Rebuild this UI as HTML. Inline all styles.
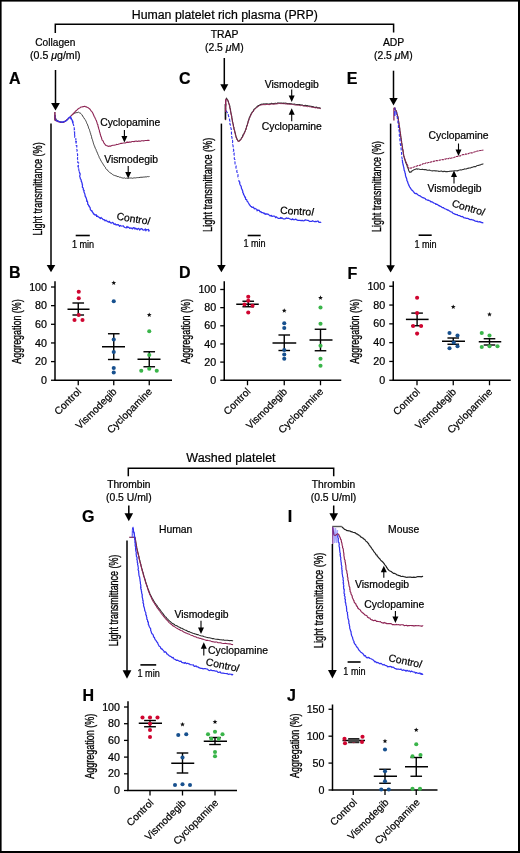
<!DOCTYPE html><html><head><meta charset="utf-8"><style>html,body{margin:0;padding:0;background:#fff;width:520px;height:853px;overflow:hidden;position:relative}</style></head><body><svg width="520" height="853" viewBox="0 0 520 853" style="position:absolute;left:0;top:0;will-change:transform">
<style>text{stroke:#000;stroke-width:0.22px}</style>
<g font-family='"Liberation Sans", sans-serif'>
<rect x="0" y="0" width="520" height="1.6" fill="#000"/>
<rect x="0" y="0" width="1.6" height="853" fill="#000"/>
<rect x="518" y="0" width="2" height="853" fill="#000"/>
<rect x="0" y="851" width="520" height="2" fill="#000"/>
<text x="131.80" y="19.00" font-size="12.3" text-anchor="start" textLength="186" lengthAdjust="spacingAndGlyphs">Human platelet rich plasma (PRP)</text>
<path d="M55.3,33 V24.2 H393.6 V32.6" fill="none" stroke="#000" stroke-width="1.5"/>
<text x="55.30" y="46.30" font-size="10.4" text-anchor="middle" textLength="40" lengthAdjust="spacingAndGlyphs">Collagen</text>
<text x="55.30" y="59.00" font-size="10.6" text-anchor="middle">(0.5 <tspan font-style="italic">μ</tspan>g/ml)</text>
<text x="224.60" y="37.70" font-size="10.4" text-anchor="middle">TRAP</text>
<text x="224.30" y="51.10" font-size="10.4" text-anchor="middle">(2.5 <tspan font-style="italic">μ</tspan>M)</text>
<text x="393.60" y="46.30" font-size="10.4" text-anchor="middle">ADP</text>
<text x="393.30" y="59.00" font-size="10.4" text-anchor="middle">(2.5 <tspan font-style="italic">μ</tspan>M)</text>
<line x1="55.50" y1="70.00" x2="55.50" y2="104.00" stroke="#000" stroke-width="1.5"/>
<path d="M51.10,103.00 L59.90,103.00 L55.50,110.50 Z" fill="#000"/>
<line x1="224.30" y1="58.00" x2="224.30" y2="85.30" stroke="#000" stroke-width="1.5"/>
<path d="M220.30,84.30 L228.30,84.30 L224.30,91.50 Z" fill="#000"/>
<line x1="393.50" y1="70.70" x2="393.50" y2="99.10" stroke="#000" stroke-width="1.5"/>
<path d="M389.30,98.10 L397.70,98.10 L393.50,105.60 Z" fill="#000"/>
<text x="9.10" y="84.00" font-size="16" text-anchor="start" font-weight="bold">A</text>
<text x="179.10" y="84.40" font-size="16" text-anchor="start" font-weight="bold">C</text>
<text x="346.70" y="84.40" font-size="16" text-anchor="start" font-weight="bold">E</text>
<text x="9.10" y="278.40" font-size="16" text-anchor="start" font-weight="bold">B</text>
<text x="179.10" y="278.40" font-size="16" text-anchor="start" font-weight="bold">D</text>
<text x="347.60" y="278.50" font-size="16" text-anchor="start" font-weight="bold">F</text>
<text x="82.10" y="522.20" font-size="16" text-anchor="start" font-weight="bold">G</text>
<text x="287.80" y="522.20" font-size="16" text-anchor="start" font-weight="bold">I</text>
<text x="82.60" y="701.00" font-size="16" text-anchor="start" font-weight="bold">H</text>
<text x="286.90" y="700.70" font-size="16" text-anchor="start" font-weight="bold">J</text>
<line x1="51.00" y1="123.60" x2="51.00" y2="266.00" stroke="#000" stroke-width="1.5"/>
<path d="M46.70,265.00 L55.30,265.00 L51.00,272.20 Z" fill="#000"/>
<line x1="221.40" y1="123.60" x2="221.40" y2="266.00" stroke="#000" stroke-width="1.5"/>
<path d="M217.10,265.00 L225.70,265.00 L221.40,272.20 Z" fill="#000"/>
<line x1="390.60" y1="123.60" x2="390.60" y2="266.20" stroke="#000" stroke-width="1.5"/>
<path d="M386.30,265.20 L394.90,265.20 L390.60,272.40 Z" fill="#000"/>
<text x="0" y="0" font-size="13" style="stroke-width:0.35px" text-anchor="middle" textLength="93.3" lengthAdjust="spacingAndGlyphs" transform="translate(42.00 188.95) rotate(-90)">Light transmittance (%)</text>
<text x="0" y="0" font-size="13" style="stroke-width:0.35px" text-anchor="middle" textLength="94.2" lengthAdjust="spacingAndGlyphs" transform="translate(211.50 184.80) rotate(-90)">Light transmittance (%)</text>
<text x="0" y="0" font-size="13" style="stroke-width:0.35px" text-anchor="middle" textLength="90.9" lengthAdjust="spacingAndGlyphs" transform="translate(381.30 186.45) rotate(-90)">Light transmittance (%)</text>
<line x1="75.70" y1="235.50" x2="89.80" y2="235.50" stroke="#000" stroke-width="1.6"/>
<text x="71.90" y="248.00" font-size="10" text-anchor="start" textLength="22.3" lengthAdjust="spacingAndGlyphs">1 min</text>
<line x1="247.70" y1="235.50" x2="260.70" y2="235.50" stroke="#000" stroke-width="1.6"/>
<text x="243.40" y="247.30" font-size="10" text-anchor="start" textLength="22.3" lengthAdjust="spacingAndGlyphs">1 min</text>
<line x1="418.60" y1="235.20" x2="431.70" y2="235.20" stroke="#000" stroke-width="1.6"/>
<text x="414.40" y="247.60" font-size="10" text-anchor="start" textLength="22.3" lengthAdjust="spacingAndGlyphs">1 min</text>
<path d="M55.50,118.00 L55.86,118.61 L56.50,119.49 L57.28,120.10 L57.88,121.17 L58.74,121.29 L59.81,121.70 L60.69,121.89 L61.53,121.83 L62.64,122.28 L63.73,122.14 L65.04,121.28 L65.71,121.10 L66.30,120.24 L67.18,119.79 L67.90,119.26 L68.65,118.54 L69.30,117.78 L69.99,117.22 L70.96,116.00 L71.60,115.28 L72.59,114.65 L73.27,113.94 L74.00,113.44 L74.92,113.02 L75.91,112.79 L76.86,112.57 L77.79,112.55 L78.57,112.19 L79.39,112.79 L80.20,113.03 L81.05,113.66 L81.60,114.43 L82.03,114.92 L82.78,116.23 L83.20,117.05 L83.88,117.67 L84.44,118.92 L85.12,119.46 L85.53,120.27 L86.09,121.40 L86.60,122.66 L86.91,123.56 L87.23,123.98 L87.66,124.85 L87.92,125.95 L88.37,126.70 L88.53,127.85 L88.89,128.69 L89.34,129.29 L89.58,130.41 L90.04,131.75 L90.23,132.47 L90.57,133.20 L90.69,134.16 L90.90,134.85 L91.36,135.91 L91.53,136.62 L91.78,137.89 L91.97,138.90 L92.41,139.60 L92.69,140.76 L92.99,141.63 L93.28,142.70 L93.38,143.18 L93.89,144.63 L94.14,145.34 L94.57,146.20 L94.87,147.09 L95.22,148.10 L95.55,148.84 L96.02,149.50 L96.32,150.67 L96.60,151.24 L97.08,152.07 L97.30,153.07 L97.79,153.77 L98.06,154.74 L98.54,155.63 L98.91,156.33 L99.16,157.40 L99.70,158.15 L99.96,158.83 L100.51,159.75 L101.03,160.89 L101.37,161.46 L102.04,162.51 L102.57,163.24 L102.95,164.10 L103.67,164.95 L104.12,165.87 L104.70,166.68 L105.37,167.32 L105.68,168.42 L106.54,169.27 L107.05,170.01 L107.79,170.37 L108.36,171.35 L108.97,171.82 L109.53,172.33 L110.20,172.75 L111.02,173.39 L111.84,173.77 L112.63,174.54 L113.43,175.04 L114.24,175.26 L114.88,175.69 L115.83,175.79 L116.91,176.21 L117.88,176.72 L118.68,176.64 L119.33,177.13 L120.11,177.32 L120.82,177.24 L121.64,177.76 L122.38,177.94 L123.46,178.11 L124.42,177.85 L125.46,178.39 L126.53,178.16 L127.94,178.31 L128.71,178.28 L129.60,178.02 L130.29,178.04 L131.24,177.96 L132.43,178.29 L133.23,178.04 L134.35,177.87 L135.45,177.94 L136.61,177.70 L137.63,177.59 L138.73,177.59 L139.99,177.40 L140.93,177.19 L142.08,177.29 L143.23,177.08 L144.25,177.09 L145.12,176.87 L146.05,176.94 L146.87,176.85 L147.66,176.55 L148.38,176.70 L148.88,176.51 L149.50,176.50" fill="none" stroke="#3a3a3a" stroke-width="1.0" stroke-opacity="1" stroke-linejoin="round"/>
<path d="M55.00,120.00 L55.74,120.64 L56.98,120.92 L58.12,121.67 L59.06,121.86 L60.20,122.37 L61.55,122.53 L62.70,122.39 L63.79,122.15 L64.88,121.55 L65.48,120.84 L66.39,120.21 L66.89,119.60 L67.86,118.93 L68.36,118.59 L69.14,117.84 L70.05,117.10 L70.80,116.30 L71.43,115.29 L72.11,114.87 L72.79,113.91 L73.49,113.70 L73.97,112.65 L74.78,112.30 L75.32,111.31 L76.14,110.81 L77.07,109.95 L77.71,109.28 L78.45,108.67 L79.12,108.16 L80.14,107.65 L80.99,107.04 L81.90,107.03 L82.81,106.64 L83.68,106.58 L84.72,106.29 L85.41,106.79 L86.60,106.92 L87.39,107.44 L88.23,107.70 L89.11,108.55 L89.74,108.90 L90.43,109.95 L90.86,110.50 L91.45,111.34 L92.04,111.82 L92.47,112.56 L93.09,113.73 L93.39,114.45 L93.84,115.49 L94.20,116.48 L94.71,117.13 L95.12,118.19 L95.62,118.94 L95.90,119.94 L96.37,120.63 L96.67,121.80 L96.89,122.14 L97.18,123.42 L97.61,124.45 L97.91,124.84 L97.94,125.65 L98.16,126.76 L98.61,127.80 L98.73,128.82 L98.98,129.39 L99.36,130.10 L99.43,131.52 L99.76,132.25 L100.12,133.47 L100.23,134.29 L100.64,135.38 L100.85,136.38 L101.36,137.15 L101.51,137.77 L101.89,139.25 L102.28,140.39 L102.97,140.81 L103.44,141.79 L103.87,142.76 L104.24,143.41 L104.94,144.28 L105.39,144.99 L106.22,145.56 L106.85,145.70 L107.80,146.11 L108.56,146.36 L109.26,146.01 L110.07,146.16 L110.78,146.13 L111.86,145.45 L112.97,145.21 L113.91,145.29 L115.23,144.93 L115.95,144.73 L116.57,144.41 L117.25,144.57 L118.22,144.29 L119.02,143.99 L119.70,143.82 L120.73,143.42 L121.50,143.34 L122.49,143.21 L123.31,143.04 L124.34,143.07 L125.30,142.93 L126.28,142.40 L127.36,142.13 L128.68,142.34 L129.28,141.91 L130.19,142.14 L131.21,142.04 L132.08,141.57 L133.00,141.50 L134.05,141.62 L134.99,141.33 L136.22,141.09 L137.30,141.51 L138.42,141.10 L139.37,141.13 L140.46,141.27 L141.52,140.77 L142.60,140.80 L143.51,140.86 L144.29,140.80 L145.40,140.56 L146.22,140.47 L146.92,140.44 L147.61,140.36 L148.46,140.27 L149.02,140.52 L149.50,140.20" fill="none" stroke="#8e2454" stroke-width="1.1" stroke-opacity="1" stroke-linejoin="round"/>
<path d="M55.00,115.00 L55.18,115.51 L55.20,116.86 L55.09,117.89 L55.42,118.86 L56.01,120.26 L56.61,120.76 L57.60,120.78 L58.64,121.44 L59.70,121.80 L60.66,121.78 L61.59,122.26 L62.58,122.00 L63.46,121.95 L64.15,121.49 L65.01,121.26 L65.90,121.00 L66.79,120.41 L67.45,119.61 L68.15,118.54 L68.99,117.64 L69.49,117.36 L70.27,116.92 L70.66,117.40 L71.21,117.99 L71.50,119.01 L72.15,120.11 L72.43,121.25 L72.67,122.17 L73.00,123.00" fill="none" stroke="#3232f0" stroke-width="1.3" stroke-opacity="1" stroke-linejoin="round"/>
<path d="M70.20,117.00 L70.38,116.90 L70.40,117.41 L70.96,118.84 L71.33,118.86 L72.14,120.54 L72.81,120.99 L72.91,122.81 L72.74,124.54 L73.08,123.71 L73.45,124.61 L73.73,125.76 L73.41,126.07 L74.09,127.36 L74.27,128.61 L74.52,129.25 L74.03,130.15 L74.67,131.78 L74.38,131.82 L74.82,134.41 L74.88,133.71 L74.49,134.67 L74.74,135.39 L74.76,137.34 L75.64,137.38 L75.83,138.75 L75.80,140.43 L76.05,139.74 L75.61,141.68 L76.32,141.66 L75.86,143.96 L75.82,144.07 L76.15,145.54 L76.81,145.58 L76.76,147.54 L76.97,148.17 L77.16,148.79 L76.82,149.51 L77.25,150.83 L76.89,151.15 L77.38,152.82 L77.46,153.31 L77.34,153.79 L77.63,154.46 L77.49,156.70 L77.76,156.42 L77.44,158.69 L77.89,159.67 L78.18,159.83 L78.29,161.26 L77.87,161.54 L77.73,162.52 L78.63,162.91 L78.39,163.85 L78.07,165.74 L78.33,165.57 L78.39,167.56 L78.92,167.33 L78.74,169.96 L78.88,170.14 L79.21,171.45" fill="none" stroke="#3232f0" stroke-width="1.12" stroke-dasharray="3,1.6"/>
<path d="M79.21,171.45 L79.53,172.37 L79.63,172.20 L79.47,172.92 L80.22,173.89 L79.67,176.33 L80.01,177.11 L80.09,177.25 L80.40,178.82 L80.94,179.39 L81.27,180.72 L81.10,181.14 L81.40,181.17 L81.96,182.95 L82.16,183.16 L82.14,184.54 L82.52,184.71 L82.40,186.33 L82.38,187.34 L83.21,188.00 L83.37,189.24 L83.22,189.68 L84.17,190.57 L83.91,191.02 L83.97,192.07 L84.87,193.98 L85.08,195.34 L85.11,196.13 L85.31,196.08 L85.96,197.82 L86.24,197.91 L86.37,198.61 L86.86,200.34 L86.52,201.16 L86.72,200.42 L87.50,201.53 L87.72,203.12 L87.69,204.26 L88.31,204.63 L88.79,206.09 L89.57,206.16 L89.41,207.05 L90.12,207.49 L90.34,209.53 L91.29,210.71 L92.01,211.29 L91.95,210.74 L92.40,211.99 L93.11,212.81 L93.51,214.02 L94.01,213.93 L95.21,215.21 L95.36,214.79 L96.50,214.92 L96.58,216.35 L97.66,216.15 L97.97,216.64 L99.38,217.51 L100.37,218.48 L101.21,217.51 L101.37,217.86 L102.52,218.84 L103.16,219.63 L104.23,219.66 L105.09,220.85 L106.00,220.19 L106.45,220.82 L107.80,221.59 L108.91,222.16 L109.19,221.28 L110.54,222.80 L111.23,223.21 L112.20,222.55 L112.78,222.41 L114.15,224.32 L115.32,223.86 L116.03,225.01 L117.08,224.72 L117.63,224.87 L118.30,224.54 L119.63,226.27 L120.35,225.47 L120.99,225.80 L122.17,226.01 L123.37,225.77 L123.81,226.68 L124.88,227.50 L126.20,227.85 L126.93,226.41 L127.80,227.50 L128.61,227.17 L129.69,228.44 L130.03,228.14 L131.15,227.99 L132.53,228.91 L133.22,227.67 L134.41,227.78 L134.89,229.09 L135.73,228.22 L137.26,229.57 L137.69,228.72 L138.69,228.39 L139.72,230.06 L140.63,228.85 L141.80,228.71 L143.14,230.04 L144.45,229.96 L145.41,228.96 L145.87,230.79 L146.55,229.65 L147.73,229.75 L148.50,229.44 L148.85,231.16 L149.60,230.40" fill="none" stroke="#3232f0" stroke-width="1.25" stroke-linejoin="round"/>
<line x1="54.90" y1="112.00" x2="54.90" y2="120.50" stroke="#7a1f50" stroke-width="1.5"/>
<text x="100.20" y="125.90" font-size="10.4" text-anchor="start" textLength="60" lengthAdjust="spacingAndGlyphs">Cyclopamine</text>
<line x1="124.40" y1="130.00" x2="124.40" y2="137.00" stroke="#000" stroke-width="1.1"/>
<path d="M121.40,136.00 L127.40,136.00 L124.40,142.50 Z" fill="#000"/>
<text x="104.20" y="163.40" font-size="10.4" text-anchor="start" textLength="53.8" lengthAdjust="spacingAndGlyphs">Vismodegib</text>
<line x1="128.20" y1="166.00" x2="128.20" y2="173.00" stroke="#000" stroke-width="1.1"/>
<path d="M125.20,172.00 L131.20,172.00 L128.20,178.50 Z" fill="#000"/>
<text x="116.20" y="219.60" font-size="10.4" text-anchor="start" transform="rotate(9 116.20 219.60)">Contro<tspan font-style="italic">l</tspan></text>
<path d="M225.60,119.60 L225.48,119.35 L225.49,118.76 L225.67,117.76 L225.48,116.50 L225.70,115.65 L225.50,115.10 L225.73,113.50 L225.76,112.73 L225.56,111.29 L225.57,110.75 L225.53,108.99 L225.49,107.83 L225.57,107.24 L225.48,105.63 L225.80,105.13 L225.83,103.59 L225.63,103.14 L225.70,102.11 L225.66,100.87 L225.71,100.72 L225.90,100.05 L226.39,98.09 L227.28,99.52 L227.67,99.74 L227.85,100.78 L228.21,100.87 L228.54,102.09 L228.58,102.61 L228.93,103.59 L229.57,105.20 L229.93,106.63 L229.78,107.81 L230.21,108.61 L230.33,109.06 L230.52,109.58 L230.61,110.69 L230.65,111.71 L230.89,112.58 L231.09,113.43 L231.27,114.62 L231.67,115.87 L231.82,116.83 L231.81,117.97 L232.00,118.41 L232.27,119.87 L232.41,120.84 L232.58,122.07 L232.84,122.73 L233.06,123.97 L233.41,124.67 L233.41,125.64 L233.47,126.37 L233.94,127.43 L233.85,128.25 L234.24,129.48 L234.51,130.09 L234.84,131.70 L235.06,132.82 L235.43,133.57 L235.55,134.74 L235.85,135.67 L236.21,136.98 L236.46,137.36 L236.62,138.33 L237.05,138.88 L237.16,139.61 L237.55,139.89 L237.97,140.88 L238.31,140.97 L238.91,141.10 L239.47,140.64 L239.94,140.01 L240.57,139.60 L241.01,139.19 L241.54,137.80 L242.33,137.06 L242.68,135.56 L243.37,134.37 L244.13,133.29 L244.52,132.22 L244.90,131.59 L245.24,131.02 L245.47,129.86 L245.95,129.45 L245.93,128.42 L246.45,127.91 L246.50,126.30 L246.93,125.64 L247.37,124.97 L247.46,123.71 L247.84,123.06 L248.01,121.75 L248.27,120.96 L248.55,120.22 L249.03,119.04 L249.19,117.90 L249.64,117.47 L249.99,116.24 L250.48,115.72 L250.66,114.67 L250.93,114.48 L251.45,113.21 L252.20,112.14 L252.85,111.63 L253.49,110.68 L253.88,109.42 L254.59,108.87 L255.15,108.58 L255.82,107.92 L256.74,106.84 L257.42,106.50 L257.87,105.86 L258.51,105.62 L259.36,105.45 L260.39,104.47 L261.13,104.40 L261.96,104.08 L262.92,104.24 L263.90,103.74 L264.82,103.92 L265.92,103.76 L266.97,103.73 L267.97,103.99 L268.84,104.05 L269.96,103.83 L270.87,103.81 L271.65,103.33 L272.61,103.81 L273.35,103.53 L274.13,103.68 L275.14,103.13 L276.07,103.60 L276.80,103.54 L277.76,102.92 L278.78,102.99 L279.74,103.14 L280.51,103.09 L281.78,103.06 L282.71,103.35 L283.51,103.13 L284.40,103.40 L285.12,102.94 L286.18,103.32 L286.90,103.63 L288.00,103.46 L288.94,103.75 L289.77,103.46 L290.45,103.83 L291.65,103.71 L292.51,103.97 L293.41,104.17 L294.50,104.07 L295.34,104.31 L296.42,104.56 L297.40,104.46 L298.44,104.60 L299.63,104.52 L300.30,104.90 L301.26,105.04 L302.19,104.89 L303.31,105.60 L304.44,105.47 L305.32,105.30 L306.34,105.64 L307.65,105.66 L308.73,106.08 L309.63,106.09 L310.89,106.20 L311.81,106.60 L312.72,106.56 L314.01,107.11 L314.91,107.35 L315.63,107.36 L316.76,107.16 L317.51,107.82 L318.26,107.80 L318.93,107.85 L319.63,107.84 L320.25,108.18 L320.80,108.00" fill="none" stroke="#333" stroke-width="1.1" stroke-opacity="1" stroke-linejoin="round"/>
<path d="M225.60,120.20 L225.65,119.67 L225.64,118.99 L225.67,118.16 L225.62,117.44 L225.58,116.29 L225.54,115.53 L225.55,114.51 L225.60,113.49 L225.67,112.26 L225.58,110.83 L225.62,109.95 L225.70,108.57 L225.55,107.75 L225.68,106.44 L225.69,105.24 L225.67,104.44 L225.70,103.29 L225.63,102.62 L225.81,101.66 L225.66,100.98 L225.86,100.56 L226.40,98.86 L227.32,100.01 L227.59,100.35 L227.77,101.15 L228.02,101.51 L228.38,102.38 L228.79,103.22 L229.09,104.46 L229.46,105.84 L229.83,107.43 L229.89,108.13 L230.16,108.80 L230.21,109.60 L230.35,110.39 L230.61,111.35 L230.79,112.15 L230.85,112.99 L231.10,114.03 L231.33,115.06 L231.56,116.21 L231.72,117.29 L231.89,118.20 L232.04,119.10 L232.33,120.31 L232.38,121.50 L232.68,122.40 L232.84,123.19 L233.15,124.18 L233.22,125.45 L233.36,126.16 L233.62,126.92 L233.90,127.80 L233.90,128.59 L234.18,129.82 L234.63,131.05 L234.73,132.10 L235.05,133.15 L235.31,134.19 L235.54,135.39 L235.80,136.55 L236.06,137.51 L236.37,138.05 L236.76,139.03 L237.06,139.73 L237.34,140.17 L237.66,140.83 L238.05,140.98 L238.21,141.47 L238.88,141.43 L239.36,141.30 L239.85,140.86 L240.46,140.09 L240.98,139.61 L241.57,138.60 L242.17,137.54 L242.85,136.58 L243.51,135.31 L243.96,134.05 L244.51,132.80 L244.92,132.28 L245.15,131.39 L245.41,130.61 L245.78,129.82 L246.15,129.08 L246.33,128.14 L246.56,127.33 L246.99,126.24 L247.28,125.25 L247.47,124.26 L247.76,123.44 L248.14,122.52 L248.33,121.57 L248.71,120.47 L249.02,119.56 L249.28,118.65 L249.68,117.91 L250.06,116.87 L250.39,116.33 L250.69,115.67 L250.93,114.91 L251.65,113.64 L252.18,113.02 L252.72,112.09 L253.45,111.08 L253.91,110.22 L254.68,109.57 L255.22,108.90 L256.00,108.20 L256.49,107.89 L257.23,107.13 L258.06,106.59 L258.59,106.37 L259.35,105.69 L260.36,105.28 L261.25,105.01 L262.04,104.74 L263.01,104.73 L263.93,104.61 L264.88,104.70 L265.99,104.64 L266.96,104.35 L267.87,104.39 L268.88,104.66 L270.08,104.57 L270.84,104.17 L271.65,104.06 L272.59,104.07 L273.31,104.26 L274.15,104.17 L275.04,103.99 L275.88,104.02 L276.83,103.73 L277.80,103.78 L278.65,103.55 L279.68,103.49 L280.72,103.61 L281.59,103.61 L282.62,103.63 L283.54,103.70 L284.34,103.69 L285.22,103.94 L286.08,103.99 L286.97,103.80 L287.80,104.17 L288.76,104.07 L289.69,104.35 L290.59,104.25 L291.54,104.21 L292.53,104.51 L293.49,104.61 L294.47,104.84 L295.41,105.07 L296.41,105.15 L297.45,105.25 L298.50,105.10 L299.61,105.54 L300.52,105.66 L301.46,105.46 L302.29,105.61 L303.35,105.89 L304.36,106.17 L305.46,106.28 L306.49,106.39 L307.41,106.68 L308.49,106.53 L309.72,106.77 L310.76,106.84 L311.73,107.27 L312.73,107.36 L313.93,107.40 L314.87,107.76 L315.79,107.92 L316.71,107.76 L317.46,108.10 L318.41,108.10 L319.07,108.18 L319.78,108.41 L320.30,108.59 L320.80,108.60" fill="none" stroke="#8e2454" stroke-width="1.0" stroke-opacity="1" stroke-linejoin="round"/>
<path d="M226.30,110.50 L226.35,111.37 L227.26,112.33 L227.39,112.44 L227.77,114.56 L228.18,114.57 L228.46,115.73 L228.53,116.00 L229.06,117.50 L228.95,117.54 L229.64,119.67 L229.67,120.67 L230.04,121.39 L229.64,121.67 L229.87,123.16 L230.01,124.49 L230.35,124.69 L230.50,125.81 L230.61,126.60 L230.69,127.56 L231.05,128.12 L231.17,129.26 L231.36,129.94 L231.24,131.45 L231.54,132.09 L231.36,132.95 L231.70,134.52 L231.43,134.87 L231.69,136.84 L231.99,137.25 L231.99,138.31 L232.47,139.24 L232.00,139.81 L232.44,140.14 L232.75,141.39 L232.49,142.70 L232.79,143.39 L233.07,144.30 L232.81,144.56 L233.06,145.89 L233.15,146.80 L232.90,147.33 L233.13,148.40 L233.75,150.11 L233.43,151.13 L233.82,151.09 L234.01,152.20 L234.30,152.98 L233.92,154.04 L234.44,155.76 L234.36,155.76 L234.38,157.48 L234.25,158.74 L234.93,159.72 L234.97,160.24 L235.30,160.71 L234.98,161.48 L235.04,163.39 L235.13,164.27 L235.51,165.42 L235.93,166.10 L236.16,166.13 L235.94,167.52 L236.24,168.86 L236.74,169.87 L236.96,170.73 L236.76,171.38 L237.23,172.72 L237.17,172.99 L237.55,173.72 L237.95,174.31 L238.00,175.90 L237.91,176.93 L238.34,178.38 L238.87,178.76" fill="none" stroke="#3232f0" stroke-width="1.12" stroke-dasharray="3,1.6"/>
<path d="M239.10,180.09 L238.86,180.92 L239.59,182.05 L239.81,182.12 L239.70,183.39 L240.00,184.45 L240.55,185.46 L240.69,185.60 L241.37,187.00 L241.30,187.76 L241.65,188.80 L242.01,189.23 L242.65,191.00 L242.82,191.09 L242.76,192.66 L243.54,193.48 L243.46,194.50 L244.03,194.92 L244.44,195.93 L244.85,197.23 L245.47,197.20 L245.58,199.20 L246.05,199.50 L246.61,199.51 L247.00,201.09 L247.30,201.36 L247.78,201.78 L248.31,202.75 L249.19,204.24 L249.49,204.85 L250.06,205.17 L250.54,206.24 L251.63,206.66 L251.83,207.28 L252.48,207.43 L253.53,207.21 L254.22,208.83 L255.12,208.49 L256.04,208.99 L256.90,209.50 L257.16,210.75 L258.01,210.19 L259.39,210.46 L259.97,211.88 L260.77,211.54 L261.69,212.57 L262.39,212.66 L263.06,212.72 L264.40,213.87 L264.59,213.14 L265.64,214.32 L266.54,213.79 L267.85,214.12 L268.92,214.85 L269.78,215.67 L270.22,215.93 L271.27,215.43 L271.92,216.39 L273.17,216.10 L274.23,216.20 L274.82,216.29 L275.59,217.63 L276.50,216.81 L277.27,217.73 L278.18,218.27 L278.86,218.40 L280.04,218.47 L280.61,217.53 L281.22,218.40 L281.86,217.75 L283.14,218.89 L283.97,218.89 L284.57,219.00 L285.54,218.61 L286.28,217.93 L287.06,218.32 L288.43,218.23 L290.00,218.98 L291.17,219.55 L291.51,219.61 L292.78,218.82 L293.01,219.65 L294.39,219.73 L294.95,219.55 L295.67,219.12 L296.85,219.93 L297.61,220.28 L298.59,220.44 L299.78,220.33 L301.24,220.62 L302.08,220.37 L303.04,220.66 L304.00,220.83 L305.43,219.79 L306.77,220.25 L307.25,220.27 L308.30,220.40 L309.84,221.50 L310.84,221.41 L312.01,221.31 L312.71,220.76 L313.53,221.26 L314.51,221.62 L315.50,221.48 L316.54,221.63 L317.09,221.19 L318.25,221.21 L318.97,222.33 L319.45,222.39 L320.23,222.42 L320.73,222.21 L321.20,221.90" fill="none" stroke="#3232f0" stroke-width="1.25" stroke-linejoin="round"/>
<line x1="225.40" y1="104.00" x2="225.40" y2="119.60" stroke="#111" stroke-width="1.5"/>
<line x1="225.60" y1="99.50" x2="225.60" y2="112.00" stroke="#8e2454" stroke-width="1.2"/>
<text x="264.80" y="87.70" font-size="10.4" text-anchor="start">Vismodegib</text>
<line x1="291.70" y1="89.60" x2="291.70" y2="96.50" stroke="#000" stroke-width="1.1"/>
<path d="M288.70,95.50 L294.70,95.50 L291.70,102.00 Z" fill="#000"/>
<text x="261.70" y="130.10" font-size="10.4" text-anchor="start">Cyclopamine</text>
<line x1="291.70" y1="121.30" x2="291.70" y2="113.80" stroke="#000" stroke-width="1.1"/>
<path d="M288.70,114.80 L294.70,114.80 L291.70,108.30 Z" fill="#000"/>
<text x="280.00" y="213.80" font-size="10.4" text-anchor="start" transform="rotate(3 280.00 213.80)">Contro<tspan font-style="italic">l</tspan></text>
<path d="M394.50,107.70 L394.75,107.97 L394.94,108.70 L395.21,109.32 L395.67,110.06 L395.99,110.42 L396.33,111.56 L396.77,112.16 L396.91,113.84 L397.33,114.92 L397.73,116.14 L397.82,116.91 L398.12,117.61 L398.21,118.23 L398.32,119.21 L398.47,120.21 L398.41,121.14 L398.71,121.62 L398.81,122.45 L398.88,123.84 L399.16,124.83 L399.14,125.36 L399.34,126.59 L399.58,127.48 L399.73,128.66 L399.73,129.79 L399.81,130.68 L399.98,131.35 L400.20,132.63 L400.38,133.52 L400.62,134.73 L400.52,135.20 L400.90,136.36 L400.78,137.11 L401.11,138.06 L401.16,139.32 L401.29,140.27 L401.61,141.32 L401.66,142.18 L401.70,143.15 L401.94,144.07 L402.03,145.13 L402.08,146.05 L402.46,146.58 L402.38,148.08 L402.47,148.90 L402.76,149.36 L402.92,150.22 L403.13,151.27 L403.31,152.50 L403.23,153.05 L403.39,154.09 L403.54,154.49 L403.71,155.75 L403.92,156.19 L404.26,157.45 L404.54,158.80 L404.83,159.60 L405.31,160.51 L405.44,161.89 L405.82,162.92 L406.31,163.56 L406.50,164.31 L406.99,165.39 L407.15,166.05 L407.42,167.24 L407.68,167.77 L408.10,168.41 L408.30,168.94 L408.79,170.81 L409.34,171.63 L409.56,172.32 L410.31,172.00 L410.99,172.23 L411.48,171.36 L412.17,170.79 L412.69,170.62 L413.78,169.86 L414.85,169.44 L416.67,168.71 L417.42,169.25 L417.89,168.98 L418.90,168.94 L419.52,169.26 L420.42,169.46 L421.44,169.46 L422.32,169.16 L423.28,169.50 L424.21,169.61 L425.17,169.52 L426.37,169.75 L427.17,170.25 L428.33,170.21 L429.33,170.04 L430.36,170.58 L431.37,170.77 L432.39,170.89 L433.35,170.73 L434.30,170.67 L435.35,170.90 L436.25,170.90 L437.04,171.04 L438.02,170.95 L438.97,171.48 L440.06,171.18 L441.19,171.15 L441.89,171.14 L442.91,171.69 L443.76,171.37 L444.79,171.27 L445.42,171.64 L446.30,171.56 L447.17,171.59 L448.24,171.48 L448.93,171.55 L449.95,171.16 L450.72,171.29 L451.73,171.16 L452.75,171.05 L453.67,171.02 L454.32,170.75 L455.17,170.71 L456.29,170.70 L457.06,170.89 L458.13,170.62 L458.83,170.20 L459.83,169.98 L460.70,169.78 L461.60,169.92 L462.63,169.55 L463.50,169.46 L464.48,168.91 L465.42,168.97 L466.16,169.07 L467.16,168.51 L467.80,168.36 L468.76,168.12 L469.48,168.05 L470.50,167.91 L471.58,167.37 L472.67,167.18 L473.47,166.79 L474.47,166.58 L475.73,166.58 L476.64,165.80 L477.48,165.52 L478.45,165.48 L479.23,165.10 L480.19,164.93 L481.09,164.52 L481.74,164.21 L482.34,164.21 L482.79,163.96 L483.40,163.80" fill="none" stroke="#333" stroke-width="1.1" stroke-opacity="1" stroke-linejoin="round"/>
<path d="M394.50,107.70 L394.69,107.93 L394.85,108.88 L395.17,109.01 L395.47,109.90 L395.86,110.53 L396.20,111.29 L396.64,112.53 L396.86,113.62 L397.30,115.14 L397.85,115.94 L397.91,116.76 L397.84,117.85 L398.26,118.55 L398.31,119.48 L398.42,120.11 L398.59,121.11 L398.80,121.62 L398.71,122.72 L398.99,123.54 L399.22,124.86 L399.30,125.62 L399.44,126.38 L399.62,127.34 L399.80,128.70 L399.72,129.40 L399.97,130.60 L400.14,131.35 L400.34,132.57 L400.33,133.76 L400.52,134.52 L400.55,135.47 L400.60,136.24 L401.01,137.03 L400.90,138.50 L401.15,139.25 L401.38,140.37 L401.43,141.39 L401.46,142.43 L401.71,143.27 L401.86,144.34 L402.03,145.23 L402.15,146.36 L402.46,146.89 L402.59,148.36 L402.56,148.77 L402.95,150.23 L402.81,151.00 L403.24,151.52 L403.33,152.39 L403.49,153.36 L403.53,153.88 L403.74,155.04 L403.77,155.30 L403.86,156.13 L404.51,157.78 L404.82,158.97 L404.91,159.77 L405.56,161.04 L405.93,161.87 L406.20,162.61 L406.63,163.08 L406.67,163.66 L407.00,164.25 L407.53,164.84 L407.85,166.06 L408.06,167.39 L408.74,168.28 L410.25,167.83 L410.81,168.22 L411.61,167.90 L412.35,167.27 L413.11,167.29 L413.78,167.10 L414.64,166.76 L415.34,166.43 L416.39,166.27 L417.11,165.87 L418.21,165.54 L419.19,165.52 L420.21,165.14 L421.10,164.83 L422.34,164.25 L423.05,163.60 L424.33,163.82 L425.35,163.26 L426.30,162.69 L427.33,163.05 L428.00,162.58 L429.04,162.42 L429.69,161.95 L430.67,162.25 L431.57,161.70 L432.39,161.82 L433.13,161.61 L434.01,161.05 L434.76,161.25 L435.92,160.61 L436.58,160.64 L437.54,160.76 L438.44,160.50 L439.47,160.17 L440.49,160.06 L441.29,160.06 L442.16,159.55 L443.26,159.78 L444.03,159.43 L444.96,159.11 L445.68,159.10 L446.86,158.60 L447.78,158.61 L448.67,158.69 L449.31,158.10 L450.42,158.43 L451.30,157.93 L452.12,157.85 L453.14,157.67 L453.88,157.43 L455.04,157.02 L455.64,156.52 L456.79,156.45 L457.81,156.36 L458.66,155.78 L459.52,155.93 L460.57,155.83 L461.25,155.32 L462.39,154.80 L462.96,154.63 L464.06,154.50 L464.91,154.63 L465.79,153.86 L466.57,154.18 L467.38,154.02 L468.21,153.65 L468.99,153.41 L469.46,153.05 L470.91,152.80 L471.90,152.90 L473.11,152.58 L474.15,152.12 L475.10,151.65 L476.19,151.64 L477.34,151.08 L478.35,150.88 L479.18,150.62 L480.08,150.50 L481.05,150.47 L481.76,150.36 L482.25,150.49 L482.82,150.13 L483.40,150.00" fill="none" stroke="#8e2454" stroke-width="1.1" stroke-opacity="1" stroke-linejoin="round" stroke-dasharray="2.5,0.6"/>
<path d="M394.50,108.00 L394.69,108.86 L394.87,108.63 L394.96,109.93 L395.32,110.09 L395.26,110.71 L395.75,111.40 L396.06,112.29 L396.24,113.53 L396.32,114.36 L396.74,115.21 L396.97,116.62 L397.40,117.55 L397.33,119.03 L397.74,120.39 L397.97,120.85 L397.92,121.79 L397.90,122.53 L398.11,123.26 L398.34,124.57 L398.53,124.81 L398.40,126.27 L398.39,126.49 L398.49,128.11 L398.77,128.63 L398.72,129.95 L399.18,130.77 L399.26,131.66 L399.12,132.35 L399.23,133.33 L399.36,134.25 L399.34,135.94 L399.77,136.89 L399.67,137.60 L399.86,138.88 L399.87,139.65 L400.07,140.90 L400.10,141.21 L400.23,142.88 L400.24,143.61 L400.33,144.25 L400.63,145.02 L400.67,146.29 L400.75,147.28 L401.04,147.72 L401.14,149.15 L401.20,150.05 L401.31,151.17 L401.48,151.79 L401.58,153.12 L401.62,154.23 L401.67,154.90 L401.88,155.87 L401.84,156.85 L401.92,157.65 L402.17,158.68 L402.45,159.81" fill="none" stroke="#3232f0" stroke-width="1.12" stroke-dasharray="3,1.6"/>
<path d="M402.45,159.81 L402.32,160.63 L402.54,161.19 L402.50,162.35 L402.71,162.75 L402.88,163.59 L403.02,164.50 L403.28,165.42 L403.54,166.74 L403.78,167.16 L403.87,168.31 L404.09,168.92 L404.10,170.13 L404.50,170.73 L404.74,171.45 L405.02,173.06 L405.33,173.38 L405.47,174.87 L405.50,175.68 L405.78,176.32 L405.99,177.31 L406.59,178.49 L406.85,179.72 L406.88,180.53 L407.48,181.27 L407.56,181.77 L407.91,182.78 L408.17,183.86 L408.65,184.33 L408.81,185.30 L409.37,186.19 L409.70,187.09 L410.12,187.41 L410.50,188.23 L410.91,188.70 L411.51,189.93 L412.25,190.31 L412.78,190.76 L413.43,191.65 L414.14,192.51 L414.52,193.10 L415.26,193.57 L416.30,193.42 L416.76,193.81 L417.78,194.74 L418.60,195.23 L419.18,195.68 L420.04,195.82 L420.97,196.66 L421.59,196.95 L422.37,197.53 L423.03,197.63 L423.79,198.05 L424.59,198.16 L425.12,198.49 L425.98,199.53 L426.83,199.75 L427.76,200.28 L428.30,200.19 L429.22,200.59 L430.07,200.87 L430.83,201.78 L431.62,201.73 L432.68,202.17 L433.61,202.92 L434.48,203.27 L435.21,203.48 L435.92,204.47 L436.89,204.21 L438.07,205.03 L438.67,205.71 L439.47,205.56 L440.04,206.27 L440.95,206.33 L441.54,206.96 L442.24,207.61 L443.25,207.51 L444.01,208.29 L444.60,208.58 L445.68,209.03 L446.45,209.29 L447.37,210.07 L448.00,209.98 L448.74,210.40 L449.60,210.97 L450.35,211.51 L451.15,211.91 L452.13,212.21 L452.99,213.28 L453.91,213.69 L454.52,213.86 L455.43,214.47 L456.39,214.69 L457.37,214.59 L457.97,215.50 L459.13,215.55 L459.64,215.54 L460.82,216.40 L461.55,216.71 L462.65,216.50 L463.58,217.59 L464.60,217.84 L465.42,217.93 L466.29,218.40 L467.52,218.40 L468.29,218.53 L469.45,219.42 L470.50,219.68 L471.39,219.48 L472.41,219.79 L473.62,220.14 L474.40,220.66 L475.41,221.08 L476.43,221.30 L477.22,221.20 L478.09,221.91 L479.12,221.80 L479.72,221.62 L480.61,222.25 L481.13,222.09 L481.80,222.71 L482.31,222.52 L482.94,222.86 L483.40,223.00" fill="none" stroke="#3232f0" stroke-width="1.25" stroke-linejoin="round"/>
<line x1="393.90" y1="107.70" x2="393.90" y2="120.40" stroke="#8a2a5a" stroke-width="1.3"/>
<line x1="394.80" y1="111.00" x2="394.80" y2="116.00" stroke="#3232f0" stroke-width="1.3"/>
<text x="428.50" y="138.90" font-size="10.4" text-anchor="start">Cyclopamine</text>
<line x1="458.50" y1="143.50" x2="458.50" y2="150.50" stroke="#000" stroke-width="1.1"/>
<path d="M455.50,149.50 L461.50,149.50 L458.50,156.00 Z" fill="#000"/>
<text x="427.50" y="191.70" font-size="10.4" text-anchor="start">Vismodegib</text>
<line x1="454.00" y1="183.60" x2="454.00" y2="176.00" stroke="#000" stroke-width="1.1"/>
<path d="M451.00,177.00 L457.00,177.00 L454.00,170.50 Z" fill="#000"/>
<text x="451.20" y="206.20" font-size="10.4" text-anchor="start" transform="rotate(17 451.20 206.20)">Contro<tspan font-style="italic">l</tspan></text>
<line x1="55.00" y1="281.20" x2="55.00" y2="380.85" stroke="#000" stroke-width="1.5"/>
<line x1="54.30" y1="380.25" x2="172.00" y2="380.25" stroke="#000" stroke-width="1.5"/>
<line x1="51.00" y1="380.25" x2="55.00" y2="380.25" stroke="#000" stroke-width="1.3"/>
<text x="47.00" y="383.85" font-size="10" text-anchor="end" textLength="5.95" lengthAdjust="spacingAndGlyphs">0</text>
<line x1="51.00" y1="361.60" x2="55.00" y2="361.60" stroke="#000" stroke-width="1.3"/>
<text x="47.00" y="365.20" font-size="10" text-anchor="end" textLength="11.90" lengthAdjust="spacingAndGlyphs">20</text>
<line x1="51.00" y1="342.95" x2="55.00" y2="342.95" stroke="#000" stroke-width="1.3"/>
<text x="47.00" y="346.55" font-size="10" text-anchor="end" textLength="11.90" lengthAdjust="spacingAndGlyphs">40</text>
<line x1="51.00" y1="324.30" x2="55.00" y2="324.30" stroke="#000" stroke-width="1.3"/>
<text x="47.00" y="327.90" font-size="10" text-anchor="end" textLength="11.90" lengthAdjust="spacingAndGlyphs">60</text>
<line x1="51.00" y1="305.65" x2="55.00" y2="305.65" stroke="#000" stroke-width="1.3"/>
<text x="47.00" y="309.25" font-size="10" text-anchor="end" textLength="11.90" lengthAdjust="spacingAndGlyphs">80</text>
<line x1="51.00" y1="287.00" x2="55.00" y2="287.00" stroke="#000" stroke-width="1.3"/>
<text x="47.00" y="290.60" font-size="10" text-anchor="end" textLength="17.85" lengthAdjust="spacingAndGlyphs">100</text>
<line x1="78.25" y1="380.25" x2="78.25" y2="385.25" stroke="#000" stroke-width="1.3"/>
<line x1="113.75" y1="380.25" x2="113.75" y2="385.25" stroke="#000" stroke-width="1.3"/>
<line x1="149.25" y1="380.25" x2="149.25" y2="385.25" stroke="#000" stroke-width="1.3"/>
<text x="0" y="0" font-size="12.8" style="stroke-width:0.35px" text-anchor="middle" textLength="64.4" lengthAdjust="spacingAndGlyphs" transform="translate(20.90 331.50) rotate(-90)">Aggregation (%)</text>
<text x="81.85" y="392.25" font-size="10.2" text-anchor="end" transform="rotate(-45 81.85 392.25)">Control</text>
<text x="117.35" y="392.25" font-size="10.2" text-anchor="end" transform="rotate(-45 117.35 392.25)">Vismodegib</text>
<text x="152.85" y="392.25" font-size="10.2" text-anchor="end" transform="rotate(-45 152.85 392.25)">Cyclopamine</text>
<line x1="67.50" y1="309.25" x2="89.50" y2="309.25" stroke="#000" stroke-width="1.5"/>
<line x1="78.25" y1="303.00" x2="78.25" y2="315.00" stroke="#000" stroke-width="1.4"/>
<line x1="72.45" y1="303.00" x2="84.05" y2="303.00" stroke="#000" stroke-width="1.4"/>
<line x1="72.45" y1="315.00" x2="84.05" y2="315.00" stroke="#000" stroke-width="1.4"/>
<line x1="102.00" y1="346.75" x2="125.00" y2="346.75" stroke="#000" stroke-width="1.5"/>
<line x1="113.75" y1="333.75" x2="113.75" y2="359.50" stroke="#000" stroke-width="1.4"/>
<line x1="107.95" y1="333.75" x2="119.55" y2="333.75" stroke="#000" stroke-width="1.4"/>
<line x1="107.95" y1="359.50" x2="119.55" y2="359.50" stroke="#000" stroke-width="1.4"/>
<polygon points="113.75,280.50 114.40,282.11 116.13,282.23 114.80,283.34 115.22,285.02 113.75,284.10 112.28,285.02 112.70,283.34 111.37,282.23 113.10,282.11" fill="#111"/>
<line x1="137.50" y1="359.25" x2="160.50" y2="359.25" stroke="#000" stroke-width="1.5"/>
<line x1="149.25" y1="351.75" x2="149.25" y2="366.75" stroke="#000" stroke-width="1.4"/>
<line x1="143.45" y1="351.75" x2="155.05" y2="351.75" stroke="#000" stroke-width="1.4"/>
<line x1="143.45" y1="366.75" x2="155.05" y2="366.75" stroke="#000" stroke-width="1.4"/>
<polygon points="149.25,312.50 149.90,314.11 151.63,314.23 150.30,315.34 150.72,317.02 149.25,316.10 147.78,317.02 148.20,315.34 146.87,314.23 148.60,314.11" fill="#111"/>
<circle cx="78.75" cy="291.75" r="2.05" fill="#cf0530"/>
<circle cx="78.75" cy="298.25" r="2.05" fill="#cf0530"/>
<circle cx="78.75" cy="315.00" r="2.05" fill="#cf0530"/>
<circle cx="74.50" cy="320.00" r="2.05" fill="#cf0530"/>
<circle cx="82.50" cy="320.00" r="2.05" fill="#cf0530"/>
<circle cx="113.75" cy="301.25" r="2.05" fill="#17508e"/>
<circle cx="113.75" cy="339.50" r="2.05" fill="#17508e"/>
<circle cx="113.75" cy="352.00" r="2.05" fill="#17508e"/>
<circle cx="113.75" cy="368.00" r="2.05" fill="#17508e"/>
<circle cx="113.75" cy="372.50" r="2.05" fill="#17508e"/>
<circle cx="149.25" cy="331.25" r="2.05" fill="#3ab54a"/>
<circle cx="149.25" cy="355.00" r="2.05" fill="#3ab54a"/>
<circle cx="149.25" cy="368.75" r="2.05" fill="#3ab54a"/>
<circle cx="141.25" cy="370.75" r="2.05" fill="#3ab54a"/>
<circle cx="156.75" cy="370.75" r="2.05" fill="#3ab54a"/>
<line x1="224.25" y1="281.20" x2="224.25" y2="380.85" stroke="#000" stroke-width="1.5"/>
<line x1="223.55" y1="380.25" x2="341.25" y2="380.25" stroke="#000" stroke-width="1.5"/>
<line x1="220.25" y1="380.25" x2="224.25" y2="380.25" stroke="#000" stroke-width="1.3"/>
<text x="216.25" y="383.85" font-size="10" text-anchor="end" textLength="5.95" lengthAdjust="spacingAndGlyphs">0</text>
<line x1="220.25" y1="362.10" x2="224.25" y2="362.10" stroke="#000" stroke-width="1.3"/>
<text x="216.25" y="365.70" font-size="10" text-anchor="end" textLength="11.90" lengthAdjust="spacingAndGlyphs">20</text>
<line x1="220.25" y1="343.95" x2="224.25" y2="343.95" stroke="#000" stroke-width="1.3"/>
<text x="216.25" y="347.55" font-size="10" text-anchor="end" textLength="11.90" lengthAdjust="spacingAndGlyphs">40</text>
<line x1="220.25" y1="325.80" x2="224.25" y2="325.80" stroke="#000" stroke-width="1.3"/>
<text x="216.25" y="329.40" font-size="10" text-anchor="end" textLength="11.90" lengthAdjust="spacingAndGlyphs">60</text>
<line x1="220.25" y1="307.65" x2="224.25" y2="307.65" stroke="#000" stroke-width="1.3"/>
<text x="216.25" y="311.25" font-size="10" text-anchor="end" textLength="11.90" lengthAdjust="spacingAndGlyphs">80</text>
<line x1="220.25" y1="289.50" x2="224.25" y2="289.50" stroke="#000" stroke-width="1.3"/>
<text x="216.25" y="293.10" font-size="10" text-anchor="end" textLength="17.85" lengthAdjust="spacingAndGlyphs">100</text>
<line x1="247.50" y1="380.25" x2="247.50" y2="385.25" stroke="#000" stroke-width="1.3"/>
<line x1="284.25" y1="380.25" x2="284.25" y2="385.25" stroke="#000" stroke-width="1.3"/>
<line x1="320.50" y1="380.25" x2="320.50" y2="385.25" stroke="#000" stroke-width="1.3"/>
<text x="0" y="0" font-size="12.8" style="stroke-width:0.35px" text-anchor="middle" textLength="64.7" lengthAdjust="spacingAndGlyphs" transform="translate(189.90 331.35) rotate(-90)">Aggregation (%)</text>
<text x="251.10" y="392.25" font-size="10.2" text-anchor="end" transform="rotate(-45 251.10 392.25)">Control</text>
<text x="287.85" y="392.25" font-size="10.2" text-anchor="end" transform="rotate(-45 287.85 392.25)">Vismodegib</text>
<text x="324.10" y="392.25" font-size="10.2" text-anchor="end" transform="rotate(-45 324.10 392.25)">Cyclopamine</text>
<line x1="236.25" y1="304.25" x2="258.75" y2="304.25" stroke="#000" stroke-width="1.5"/>
<line x1="248.25" y1="301.25" x2="248.25" y2="306.75" stroke="#000" stroke-width="1.4"/>
<line x1="242.45" y1="301.25" x2="254.05" y2="301.25" stroke="#000" stroke-width="1.4"/>
<line x1="242.45" y1="306.75" x2="254.05" y2="306.75" stroke="#000" stroke-width="1.4"/>
<line x1="272.50" y1="343.00" x2="296.25" y2="343.00" stroke="#000" stroke-width="1.5"/>
<line x1="284.25" y1="335.00" x2="284.25" y2="350.50" stroke="#000" stroke-width="1.4"/>
<line x1="278.45" y1="335.00" x2="290.05" y2="335.00" stroke="#000" stroke-width="1.4"/>
<line x1="278.45" y1="350.50" x2="290.05" y2="350.50" stroke="#000" stroke-width="1.4"/>
<polygon points="284.25,308.25 284.90,309.86 286.63,309.98 285.30,311.09 285.72,312.77 284.25,311.85 282.78,312.77 283.20,311.09 281.87,309.98 283.60,309.86" fill="#111"/>
<line x1="309.50" y1="340.00" x2="332.50" y2="340.00" stroke="#000" stroke-width="1.5"/>
<line x1="320.50" y1="329.25" x2="320.50" y2="350.75" stroke="#000" stroke-width="1.4"/>
<line x1="314.70" y1="329.25" x2="326.30" y2="329.25" stroke="#000" stroke-width="1.4"/>
<line x1="314.70" y1="350.75" x2="326.30" y2="350.75" stroke="#000" stroke-width="1.4"/>
<polygon points="320.50,295.30 321.15,296.91 322.88,297.03 321.55,298.14 321.97,299.82 320.50,298.90 319.03,299.82 319.45,298.14 318.12,297.03 319.85,296.91" fill="#111"/>
<circle cx="248.25" cy="296.75" r="2.05" fill="#cf0530"/>
<circle cx="244.50" cy="304.50" r="2.05" fill="#cf0530"/>
<circle cx="252.50" cy="305.75" r="2.05" fill="#cf0530"/>
<circle cx="248.25" cy="300.75" r="2.05" fill="#cf0530"/>
<circle cx="248.25" cy="312.50" r="2.05" fill="#cf0530"/>
<circle cx="284.25" cy="323.25" r="2.05" fill="#17508e"/>
<circle cx="284.25" cy="328.00" r="2.05" fill="#17508e"/>
<circle cx="284.25" cy="350.00" r="2.05" fill="#17508e"/>
<circle cx="284.25" cy="354.50" r="2.05" fill="#17508e"/>
<circle cx="284.25" cy="358.75" r="2.05" fill="#17508e"/>
<circle cx="320.50" cy="307.50" r="2.05" fill="#3ab54a"/>
<circle cx="320.50" cy="323.75" r="2.05" fill="#3ab54a"/>
<circle cx="320.50" cy="345.75" r="2.05" fill="#3ab54a"/>
<circle cx="320.50" cy="358.75" r="2.05" fill="#3ab54a"/>
<circle cx="320.50" cy="365.75" r="2.05" fill="#3ab54a"/>
<line x1="393.25" y1="281.20" x2="393.25" y2="380.85" stroke="#000" stroke-width="1.5"/>
<line x1="392.55" y1="380.25" x2="510.75" y2="380.25" stroke="#000" stroke-width="1.5"/>
<line x1="389.25" y1="380.25" x2="393.25" y2="380.25" stroke="#000" stroke-width="1.3"/>
<text x="385.25" y="383.85" font-size="10" text-anchor="end" textLength="5.95" lengthAdjust="spacingAndGlyphs">0</text>
<line x1="389.25" y1="361.45" x2="393.25" y2="361.45" stroke="#000" stroke-width="1.3"/>
<text x="385.25" y="365.05" font-size="10" text-anchor="end" textLength="11.90" lengthAdjust="spacingAndGlyphs">20</text>
<line x1="389.25" y1="342.65" x2="393.25" y2="342.65" stroke="#000" stroke-width="1.3"/>
<text x="385.25" y="346.25" font-size="10" text-anchor="end" textLength="11.90" lengthAdjust="spacingAndGlyphs">40</text>
<line x1="389.25" y1="323.85" x2="393.25" y2="323.85" stroke="#000" stroke-width="1.3"/>
<text x="385.25" y="327.45" font-size="10" text-anchor="end" textLength="11.90" lengthAdjust="spacingAndGlyphs">60</text>
<line x1="389.25" y1="305.05" x2="393.25" y2="305.05" stroke="#000" stroke-width="1.3"/>
<text x="385.25" y="308.65" font-size="10" text-anchor="end" textLength="11.90" lengthAdjust="spacingAndGlyphs">80</text>
<line x1="389.25" y1="286.25" x2="393.25" y2="286.25" stroke="#000" stroke-width="1.3"/>
<text x="385.25" y="289.85" font-size="10" text-anchor="end" textLength="17.85" lengthAdjust="spacingAndGlyphs">100</text>
<line x1="417.00" y1="380.25" x2="417.00" y2="385.25" stroke="#000" stroke-width="1.3"/>
<line x1="453.25" y1="380.25" x2="453.25" y2="385.25" stroke="#000" stroke-width="1.3"/>
<line x1="489.50" y1="380.25" x2="489.50" y2="385.25" stroke="#000" stroke-width="1.3"/>
<text x="0" y="0" font-size="12.8" style="stroke-width:0.35px" text-anchor="middle" textLength="64.7" lengthAdjust="spacingAndGlyphs" transform="translate(359.10 331.35) rotate(-90)">Aggregation (%)</text>
<text x="420.60" y="392.45" font-size="10.2" text-anchor="end" transform="rotate(-45 420.60 392.45)">Control</text>
<text x="456.85" y="392.45" font-size="10.2" text-anchor="end" transform="rotate(-45 456.85 392.45)">Vismodegib</text>
<text x="493.10" y="392.45" font-size="10.2" text-anchor="end" transform="rotate(-45 493.10 392.45)">Cyclopamine</text>
<line x1="405.90" y1="319.40" x2="428.60" y2="319.40" stroke="#000" stroke-width="1.5"/>
<line x1="417.10" y1="313.10" x2="417.10" y2="325.75" stroke="#000" stroke-width="1.4"/>
<line x1="411.30" y1="313.10" x2="422.90" y2="313.10" stroke="#000" stroke-width="1.4"/>
<line x1="411.30" y1="325.75" x2="422.90" y2="325.75" stroke="#000" stroke-width="1.4"/>
<line x1="442.00" y1="341.25" x2="465.00" y2="341.25" stroke="#000" stroke-width="1.5"/>
<line x1="453.25" y1="338.00" x2="453.25" y2="344.25" stroke="#000" stroke-width="1.4"/>
<line x1="447.45" y1="338.00" x2="459.05" y2="338.00" stroke="#000" stroke-width="1.4"/>
<line x1="447.45" y1="344.25" x2="459.05" y2="344.25" stroke="#000" stroke-width="1.4"/>
<polygon points="453.25,304.50 453.90,306.11 455.63,306.23 454.30,307.34 454.72,309.02 453.25,308.10 451.78,309.02 452.20,307.34 450.87,306.23 452.60,306.11" fill="#111"/>
<line x1="478.75" y1="341.75" x2="501.25" y2="341.75" stroke="#000" stroke-width="1.5"/>
<line x1="489.50" y1="338.75" x2="489.50" y2="345.00" stroke="#000" stroke-width="1.4"/>
<line x1="483.70" y1="338.75" x2="495.30" y2="338.75" stroke="#000" stroke-width="1.4"/>
<line x1="483.70" y1="345.00" x2="495.30" y2="345.00" stroke="#000" stroke-width="1.4"/>
<polygon points="489.50,312.00 490.15,313.61 491.88,313.73 490.55,314.84 490.97,316.52 489.50,315.60 488.03,316.52 488.45,314.84 487.12,313.73 488.85,313.61" fill="#111"/>
<circle cx="417.10" cy="297.80" r="2.05" fill="#cf0530"/>
<circle cx="417.10" cy="313.10" r="2.05" fill="#cf0530"/>
<circle cx="413.10" cy="326.00" r="2.05" fill="#cf0530"/>
<circle cx="421.10" cy="326.00" r="2.05" fill="#cf0530"/>
<circle cx="417.10" cy="333.60" r="2.05" fill="#cf0530"/>
<circle cx="449.50" cy="333.00" r="2.05" fill="#17508e"/>
<circle cx="457.50" cy="335.50" r="2.05" fill="#17508e"/>
<circle cx="453.75" cy="342.50" r="2.05" fill="#17508e"/>
<circle cx="449.50" cy="348.25" r="2.05" fill="#17508e"/>
<circle cx="457.50" cy="346.25" r="2.05" fill="#17508e"/>
<circle cx="481.75" cy="333.00" r="2.05" fill="#3ab54a"/>
<circle cx="489.50" cy="335.50" r="2.05" fill="#3ab54a"/>
<circle cx="481.75" cy="347.00" r="2.05" fill="#3ab54a"/>
<circle cx="489.50" cy="346.25" r="2.05" fill="#3ab54a"/>
<circle cx="497.50" cy="346.25" r="2.05" fill="#3ab54a"/>
<text x="186.30" y="462.20" font-size="12.5" text-anchor="start" textLength="89.3" lengthAdjust="spacingAndGlyphs">Washed platelet</text>
<path d="M128.3,476.3 V468.3 H333.7 V476.3" fill="none" stroke="#000" stroke-width="1.5"/>
<text x="128.80" y="487.50" font-size="10.25" text-anchor="middle">Thrombin</text>
<text x="128.80" y="500.50" font-size="10.4" text-anchor="middle">(0.5 U/ml)</text>
<text x="333.50" y="487.50" font-size="10.25" text-anchor="middle">Thrombin</text>
<text x="333.50" y="500.50" font-size="10.4" text-anchor="middle">(0.5 U/ml)</text>
<line x1="128.80" y1="505.50" x2="128.80" y2="514.30" stroke="#000" stroke-width="1.5"/>
<path d="M124.50,513.30 L133.10,513.30 L128.80,521.30 Z" fill="#000"/>
<line x1="333.70" y1="505.50" x2="333.70" y2="514.30" stroke="#000" stroke-width="1.5"/>
<path d="M329.40,513.30 L338.00,513.30 L333.70,521.30 Z" fill="#000"/>
<text x="158.90" y="533.00" font-size="10.4" text-anchor="start">Human</text>
<text x="388.00" y="533.00" font-size="10.4" text-anchor="start">Mouse</text>
<line x1="127.00" y1="540.40" x2="127.00" y2="671.30" stroke="#000" stroke-width="1.5"/>
<path d="M122.60,670.30 L131.40,670.30 L127.00,678.80 Z" fill="#000"/>
<line x1="332.40" y1="544.00" x2="332.40" y2="671.00" stroke="#000" stroke-width="1.5"/>
<path d="M328.00,670.00 L336.80,670.00 L332.40,678.50 Z" fill="#000"/>
<text x="0" y="0" font-size="13" style="stroke-width:0.35px" text-anchor="middle" textLength="91.6" lengthAdjust="spacingAndGlyphs" transform="translate(118.40 600.50) rotate(-90)">Light transmittance (%)</text>
<text x="0" y="0" font-size="13" style="stroke-width:0.35px" text-anchor="middle" textLength="95.5" lengthAdjust="spacingAndGlyphs" transform="translate(323.10 600.45) rotate(-90)">Light transmittance (%)</text>
<line x1="140.40" y1="664.90" x2="156.20" y2="664.90" stroke="#000" stroke-width="1.6"/>
<text x="137.50" y="677.40" font-size="10" text-anchor="start" textLength="22.3" lengthAdjust="spacingAndGlyphs">1 min</text>
<line x1="347.60" y1="662.00" x2="360.60" y2="662.00" stroke="#000" stroke-width="1.6"/>
<text x="343.30" y="674.60" font-size="10" text-anchor="start" textLength="22.3" lengthAdjust="spacingAndGlyphs">1 min</text>
<line x1="129.20" y1="537.30" x2="135.00" y2="537.30" stroke="#7a2a55" stroke-width="1.2"/>
<path d="M132.20,537.30 C132.28,535.75 132.23,528.00 132.70,528.00 C133.17,528.00 134.62,535.75 135.00,537.30" fill="none" stroke="#3232f0" stroke-width="1.0" stroke-opacity="1" stroke-linejoin="round"/>
<path d="M135.00,537.30 L134.99,537.62 L135.15,538.44 L135.25,538.80 L135.34,539.58 L135.56,540.37 L135.74,541.23 L135.72,542.02 L135.95,543.18 L136.18,544.25 L136.33,545.07 L136.62,546.27 L136.71,547.40 L137.04,548.81 L137.26,549.90 L137.36,550.74 L137.67,551.29 L137.75,552.30 L138.03,552.85 L138.28,553.90 L138.42,554.58 L138.67,555.49 L138.82,556.58 L139.07,557.16 L139.15,558.08 L139.37,559.27 L139.69,560.04 L139.89,560.99 L140.14,562.03 L140.37,563.04 L140.70,563.99 L140.92,564.67 L141.10,565.88 L141.34,566.72 L141.56,567.76 L141.83,568.51 L142.18,569.32 L142.26,570.35 L142.60,571.12 L142.83,572.25 L143.18,573.17 L143.42,573.74 L143.61,574.81 L143.81,575.87 L144.13,576.79 L144.48,577.51 L144.69,578.51 L144.93,579.25 L145.26,580.26 L145.51,581.40 L145.88,582.16 L146.03,583.20 L146.36,583.83 L146.74,585.04 L146.94,585.78 L147.35,586.64 L147.54,587.35 L147.77,588.49 L148.23,589.04 L148.49,589.86 L148.82,590.73 L149.11,591.58 L149.30,592.36 L149.72,592.89 L149.91,593.71 L150.48,594.97 L150.87,595.86 L151.36,596.52 L151.74,597.61 L152.19,598.30 L152.68,598.95 L153.07,599.87 L153.55,600.69 L153.95,601.34 L154.45,601.93 L155.00,602.99 L155.44,603.49 L155.91,604.24 L156.43,604.90 L157.07,605.69 L157.48,606.57 L158.00,607.24 L158.64,608.16 L159.13,608.59 L159.82,609.34 L160.28,610.31 L160.98,611.03 L161.43,611.78 L162.06,612.51 L162.78,613.44 L163.37,614.13 L163.99,615.16 L164.53,615.94 L165.17,616.59 L165.94,617.22 L166.57,617.90 L167.11,618.81 L167.77,619.12 L168.30,619.95 L168.96,620.36 L169.66,621.03 L170.50,621.76 L171.16,622.44 L172.09,623.24 L172.83,623.53 L173.61,624.06 L174.37,624.45 L175.10,625.28 L176.06,625.45 L176.84,625.79 L177.71,626.44 L178.52,626.78 L179.32,627.35 L180.17,627.49 L181.02,628.27 L181.85,628.32 L182.71,628.73 L183.49,629.37 L184.27,629.61 L185.24,630.16 L186.06,630.19 L186.93,630.76 L187.62,631.29 L188.48,631.64 L189.34,631.62 L190.32,632.18 L191.25,632.60 L192.07,632.90 L193.05,633.33 L194.06,633.55 L194.93,633.97 L195.78,633.96 L196.64,634.46 L197.47,634.61 L198.38,634.80 L199.14,635.13 L200.13,635.51 L200.92,635.77 L201.93,636.05 L202.70,636.05 L203.77,636.57 L204.55,636.84 L205.54,637.04 L206.43,637.29 L207.39,637.41 L208.33,637.78 L209.41,637.82 L210.23,638.01 L211.35,638.25 L212.20,638.64 L213.14,638.48 L214.10,638.80 L215.06,639.07 L216.03,639.22 L216.95,639.33 L218.00,639.39 L218.99,639.50 L220.01,639.71 L221.09,639.71 L222.28,639.92 L223.33,639.86 L224.21,640.19 L225.28,640.23 L226.29,640.16 L227.27,640.28 L228.24,640.38 L229.00,640.44 L229.82,640.64 L230.61,640.51 L231.40,640.57 L232.11,640.81 L232.57,640.72 L233.10,640.80" fill="none" stroke="#2a2a2a" stroke-width="1.05" stroke-opacity="1" stroke-linejoin="round"/>
<path d="M135.00,537.50 L135.14,538.01 L135.21,538.50 L135.29,539.29 L135.49,539.89 L135.58,540.62 L135.59,541.49 L135.89,542.34 L135.90,543.51 L136.18,544.64 L136.23,545.60 L136.59,546.62 L136.67,548.15 L136.90,549.01 L137.22,550.67 L137.42,551.18 L137.64,552.16 L137.69,552.58 L137.96,553.61 L138.09,554.34 L138.39,555.00 L138.54,555.87 L138.89,556.74 L138.92,557.95 L139.16,558.85 L139.41,560.00 L139.70,560.62 L139.83,561.64 L140.22,562.72 L140.44,563.58 L140.74,564.49 L140.89,565.73 L141.19,566.45 L141.44,567.55 L141.56,568.32 L141.93,569.25 L142.07,570.26 L142.25,571.04 L142.73,571.93 L142.93,572.69 L143.05,573.81 L143.32,574.95 L143.75,575.55 L143.81,576.79 L144.25,577.52 L144.33,578.20 L144.77,579.47 L144.99,580.22 L145.22,581.17 L145.53,582.21 L145.81,582.99 L146.05,584.06 L146.52,584.72 L146.76,585.85 L146.92,586.48 L147.36,587.36 L147.48,588.20 L147.95,589.20 L148.04,589.99 L148.47,590.91 L148.68,591.91 L149.12,592.41 L149.33,593.18 L149.57,594.12 L149.94,594.88 L150.52,595.72 L150.82,596.70 L151.31,597.46 L151.72,598.48 L152.09,599.59 L152.68,600.24 L152.97,601.17 L153.50,602.03 L154.03,602.48 L154.53,603.42 L154.91,604.27 L155.39,604.70 L155.82,605.70 L156.40,606.24 L156.87,607.32 L157.48,608.16 L158.20,608.96 L158.53,609.74 L159.14,610.42 L159.74,610.89 L160.15,611.93 L160.68,612.29 L161.18,613.28 L161.83,614.25 L162.33,614.74 L163.10,615.60 L163.72,616.38 L164.33,617.29 L164.93,617.84 L165.41,618.53 L165.97,619.10 L166.65,619.89 L167.22,620.38 L167.96,621.15 L168.43,621.77 L169.03,622.58 L169.71,623.05 L170.47,623.63 L171.11,624.26 L171.98,624.76 L172.54,625.65 L173.28,625.83 L174.05,626.53 L174.82,626.89 L175.54,627.37 L176.25,627.92 L177.02,628.19 L177.97,628.96 L178.62,629.21 L179.35,629.38 L180.27,630.27 L180.99,630.48 L181.97,630.68 L182.72,631.23 L183.57,631.92 L184.42,632.31 L185.05,632.66 L186.00,632.88 L186.76,633.36 L187.67,633.72 L188.67,634.02 L189.52,634.36 L190.37,634.88 L191.20,635.27 L192.06,635.50 L193.06,635.85 L194.12,636.45 L195.03,636.80 L195.74,636.74 L196.56,637.47 L197.50,637.79 L198.31,637.78 L199.26,638.28 L200.07,638.37 L200.94,638.52 L201.97,639.11 L202.75,638.99 L203.77,639.41 L204.66,639.64 L205.42,640.05 L206.36,640.38 L207.33,640.32 L208.24,640.49 L209.37,640.65 L210.22,640.86 L211.18,641.30 L212.23,641.63 L213.20,641.67 L214.16,642.07 L214.95,642.14 L216.02,642.01 L217.04,642.10 L218.04,642.69 L219.08,642.74 L220.14,642.75 L221.06,642.88 L222.16,643.25 L223.36,643.47 L224.26,643.56 L225.41,643.26 L226.32,643.43 L227.16,643.72 L228.24,643.71 L229.02,643.97 L229.91,643.89 L230.59,643.94 L231.34,644.51 L231.95,644.48 L232.64,644.61 L233.10,644.50" fill="none" stroke="#8e2454" stroke-width="1.05" stroke-opacity="1" stroke-linejoin="round"/>
<path d="M132.70,528.00 L133.05,527.39 L132.91,528.34 L133.43,529.18 L133.47,531.97 L133.80,532.44 L134.01,532.41 L134.04,532.57 L134.41,534.43 L134.30,534.82 L134.45,535.28 L134.20,536.35 L134.81,537.48 L134.78,537.34 L134.54,538.38 L134.82,540.15 L134.96,540.64 L134.93,541.02 L134.93,543.12 L135.49,543.64 L135.44,544.05 L135.09,544.78 L135.20,546.06 L135.99,547.61 L135.58,547.97 L135.55,548.90 L135.75,550.40 L135.88,551.29 L136.33,552.19 L136.11,554.12 L136.33,554.95 L136.45,556.05 L136.38,556.46 L137.09,557.47 L137.05,558.33 L136.80,559.57 L137.16,559.95 L137.32,561.39 L137.32,562.81 L137.82,563.27 L137.54,564.74 L137.98,565.35 L138.01,566.08 L138.22,567.39 L138.44,567.98 L138.02,569.75 L138.52,570.64 L138.76,571.58 L138.63,572.69 L138.94,573.03 L138.77,573.56 L138.95,574.85 L139.15,576.23 L139.73,577.11 L139.66,577.29 L139.81,578.96 L140.00,579.64 L140.04,580.79 L140.27,581.60 L140.43,583.11 L140.35,583.48 L140.61,584.38 L140.92,585.82 L140.71,586.32 L140.56,587.45 L141.04,587.03 L140.73,588.96 L141.38,589.41 L141.23,589.64 L141.46,591.75 L141.73,591.65 L141.60,592.78 L142.21,594.86 L142.40,595.26 L142.11,595.68 L142.20,596.98 L142.43,597.85 L142.81,599.43 L142.70,600.21 L142.77,600.26 L143.26,600.83 L142.90,602.91 L143.32,602.91 L143.69,604.40 L143.57,605.11 L143.57,606.08 L143.95,606.24 L143.86,606.70 L144.32,607.68 L144.72,609.83 L144.67,610.42 L145.10,611.17 L145.45,611.92 L145.72,612.41 L145.85,613.86 L145.74,614.38 L146.51,615.89 L146.44,616.64 L146.94,617.75 L146.75,619.10 L147.45,619.79 L147.61,620.54 L147.60,621.86 L148.14,621.59 L148.47,622.82 L148.22,624.31 L148.61,624.49 L148.84,625.59 L149.47,626.95 L150.08,627.96 L150.20,628.18 L150.72,628.83 L150.61,630.17 L150.98,631.03 L151.14,631.43 L151.43,632.53 L151.94,633.90 L152.33,633.85 L153.03,634.68 L153.52,635.97 L153.45,637.03 L154.49,637.30 L154.64,638.46 L155.36,639.87 L155.20,639.81 L156.20,640.65 L156.49,641.65 L156.64,641.71 L157.78,643.00 L157.99,644.02 L158.74,645.27 L158.82,645.68 L159.32,646.32 L160.46,646.97 L160.72,648.23 L161.53,649.03 L162.02,648.88 L162.72,649.81 L162.84,649.96 L164.12,651.30 L164.18,652.14 L165.42,651.81 L166.35,652.63 L166.79,654.01 L167.57,654.10 L168.37,655.08 L169.51,655.99 L170.35,656.42 L170.80,656.31 L171.91,657.60 L172.28,657.89 L173.09,657.33 L173.94,658.94 L174.72,659.24 L175.64,659.62 L176.27,660.31 L177.08,660.20 L178.01,660.43 L179.47,661.37 L180.42,661.33 L180.96,661.06 L181.82,662.37 L182.61,662.58 L183.50,662.80 L184.38,663.35 L185.15,662.40 L186.29,663.66 L187.21,663.42 L188.04,663.43 L188.61,663.83 L189.39,663.77 L190.24,664.75 L191.39,664.74 L192.29,665.02 L193.34,664.85 L194.24,666.38 L195.06,666.29 L196.14,665.84 L196.30,666.58 L197.50,666.84 L198.08,666.92 L198.82,667.76 L199.31,667.67 L200.13,668.15 L201.08,668.31 L202.01,668.32 L203.09,669.01 L204.08,668.65 L205.20,668.55 L206.71,668.97 L207.46,669.09 L208.57,670.23 L209.25,670.48 L209.82,670.57 L211.07,669.82 L211.52,670.32 L212.70,670.62 L213.91,670.48 L214.60,670.84 L215.58,671.22 L216.95,671.22 L217.69,672.09 L218.74,672.50 L220.19,671.85 L220.85,672.94 L221.93,673.05 L223.35,673.18 L224.16,673.46 L225.21,673.48 L226.70,673.70 L227.09,673.41 L228.17,674.42 L229.32,674.00 L229.99,674.12 L230.69,674.23 L231.71,674.46 L231.91,674.94 L232.41,674.35 L233.10,675.00" fill="none" stroke="#3232f0" stroke-width="1.2" stroke-opacity="1" stroke-linejoin="round"/>
<text x="174.40" y="617.50" font-size="10.4" text-anchor="start">Vismodegib</text>
<line x1="201.00" y1="620.80" x2="201.00" y2="628.50" stroke="#000" stroke-width="1.1"/>
<path d="M198.00,627.50 L204.00,627.50 L201.00,634.00 Z" fill="#000"/>
<text x="208.00" y="654.40" font-size="10.4" text-anchor="start">Cyclopamine</text>
<line x1="203.80" y1="655.60" x2="203.80" y2="647.80" stroke="#000" stroke-width="1.1"/>
<path d="M200.80,648.80 L206.80,648.80 L203.80,642.30 Z" fill="#000"/>
<text x="205.30" y="665.00" font-size="10.4" text-anchor="start" transform="rotate(12 205.30 665.00)">Contro<tspan font-style="italic">l</tspan></text>
<line x1="332.20" y1="526.50" x2="341.70" y2="526.50" stroke="#555" stroke-width="1.4"/>
<path d="M333.5,527.5 L334.5,543 L335.5,528 L336.5,543 L337.5,530" fill="none" stroke="#aaaaff" stroke-width="1.4"/>
<path d="M332.6,527 L332.8,544 M332.8,527 L334,535 L335.4,535.8" fill="none" stroke="#7a2a8a" stroke-width="1.1"/>
<path d="M341.70,526.50 L342.44,527.49 L343.46,528.17 L343.96,528.91 L344.52,529.41 L345.80,529.72 L346.40,530.42 L347.15,530.60 L348.00,530.67 L349.06,531.01 L349.93,530.94 L351.06,531.67 L352.06,531.91 L352.99,532.28 L353.67,532.52 L354.67,532.56 L355.63,533.13 L356.59,533.92 L357.30,534.01 L357.93,534.65 L358.74,535.06 L359.51,535.66 L360.27,536.07 L361.00,537.09 L361.88,537.41 L362.64,538.15 L363.11,538.19 L363.91,539.08 L364.83,539.42 L365.46,540.58 L365.97,541.22 L366.78,541.51 L367.35,542.47 L368.02,543.03 L368.61,543.73 L369.06,544.79 L369.78,545.60 L370.38,546.77 L371.07,547.30 L371.58,548.22 L372.03,548.96 L372.55,549.65 L373.13,550.22 L373.59,551.10 L374.10,551.83 L374.75,552.65 L375.38,553.35 L375.68,554.11 L376.21,554.85 L377.03,555.18 L377.35,556.32 L378.06,556.98 L378.83,557.87 L379.38,558.55 L380.15,559.24 L380.64,560.06 L381.30,560.78 L381.93,561.26 L382.46,561.75 L383.34,562.67 L383.87,563.38 L384.48,564.19 L384.87,564.85 L385.55,565.55 L386.17,566.27 L386.58,567.54 L387.16,567.86 L387.53,568.93 L388.21,569.27 L388.77,570.28 L389.46,570.67 L390.44,571.19 L391.17,571.56 L391.77,572.06 L392.76,572.84 L393.63,573.43 L394.49,573.42 L395.29,573.77 L396.28,574.35 L397.06,575.01 L398.09,575.16 L398.77,575.62 L399.80,575.53 L400.55,576.25 L401.55,576.47 L402.24,576.24 L403.20,576.45 L404.00,576.73 L404.99,576.85 L405.84,577.25 L407.01,577.43 L407.99,576.98 L408.96,577.22 L409.92,577.21 L410.64,577.20 L411.73,577.36 L412.96,577.36 L413.85,577.13 L414.99,577.32 L416.08,577.05 L417.33,576.71 L418.35,576.59 L419.19,576.62 L420.14,576.65 L421.19,576.88 L421.83,576.56 L422.62,576.42 L423.10,576.50" fill="none" stroke="#222" stroke-width="1.2" stroke-opacity="1" stroke-linejoin="round"/>
<path d="M335.40,535.80 L335.90,535.03 L337.02,534.17 L337.83,533.65 L338.18,534.09 L338.71,534.55 L339.37,536.10 L340.08,537.49 L340.16,537.44 L340.38,538.32 L340.58,539.39 L340.98,539.44 L341.28,540.70 L341.38,541.52 L341.87,543.23 L342.10,543.59 L342.07,544.82 L342.32,545.67 L342.58,546.33 L342.59,547.82 L343.14,548.49 L343.28,549.23 L343.34,550.04 L343.45,551.40 L343.63,552.31 L343.74,552.84 L343.98,554.37 L343.85,554.63 L343.89,555.69 L344.13,556.61 L344.28,557.68 L344.43,559.26 L344.54,559.23 L345.11,560.49 L345.16,561.31 L344.94,561.91 L345.53,562.79 L345.43,563.88 L345.68,564.87 L345.90,565.60 L345.91,567.26 L346.06,568.15 L345.98,569.02 L346.31,570.10 L346.63,570.36 L346.85,571.30 L346.91,572.94 L346.87,573.06 L347.35,574.02 L347.46,575.16 L347.32,576.44 L347.56,576.76 L347.98,578.42 L347.85,579.35 L347.90,580.13 L348.30,580.54 L348.37,581.59 L348.68,582.66 L348.72,583.86 L348.86,584.23 L349.10,585.96 L349.15,586.29 L349.67,587.09 L349.88,588.11 L349.69,589.38 L350.21,589.94 L350.09,590.39 L350.15,591.70 L350.84,592.45 L351.03,593.98 L351.48,594.92 L351.93,595.46 L352.31,596.78 L352.34,597.72 L352.69,598.31 L353.31,599.53 L353.57,600.32 L354.07,600.68 L354.05,601.98 L354.41,602.22 L354.80,603.04 L355.67,603.53 L356.06,604.83 L356.68,606.19 L357.23,606.16 L357.61,607.33 L358.08,608.46 L358.74,608.67 L359.26,609.54 L360.15,609.81 L360.71,610.76 L361.22,611.59 L362.27,612.50 L363.22,613.26 L363.96,613.93 L364.60,614.72 L365.45,615.17 L365.91,615.28 L366.96,615.67 L367.45,617.09 L368.11,617.34 L368.85,618.03 L369.86,617.98 L370.50,619.28 L371.46,619.88 L372.11,619.72 L372.81,620.37 L373.74,620.60 L374.65,620.30 L375.58,620.35 L376.51,621.31 L377.11,621.34 L378.15,621.47 L379.50,621.70 L380.44,621.54 L380.91,622.14 L381.85,622.77 L382.69,622.90 L383.49,623.11 L384.17,622.39 L385.23,623.19 L385.80,622.93 L386.82,623.79 L387.81,623.49 L388.68,623.58 L389.53,623.57 L390.64,623.57 L391.54,623.79 L392.35,624.60 L393.74,624.49 L394.83,624.81 L395.45,624.79 L396.05,624.37 L397.33,624.73 L398.39,624.69 L399.02,624.71 L400.33,625.11 L401.01,624.70 L402.19,624.71 L403.36,624.91 L404.35,625.67 L405.14,625.45 L406.36,625.37 L407.23,625.85 L408.14,625.58 L408.98,625.63 L410.39,625.50 L411.17,625.47 L411.85,625.58 L412.92,625.55 L413.26,625.81 L414.24,625.91 L415.69,625.68 L417.18,625.70 L418.17,625.69 L419.16,625.76 L420.43,625.99 L421.17,625.86 L421.80,626.34 L422.78,625.82 L423.10,626.20" fill="none" stroke="#8e2454" stroke-width="1.15" stroke-opacity="1" stroke-linejoin="round"/>
<path d="M337.70,534.60 L337.90,535.75 L337.87,536.24 L337.70,536.75 L337.74,536.68 L337.83,537.18 L338.40,538.52 L338.24,539.95 L338.28,541.07 L338.36,542.22 L338.97,542.57 L339.14,544.09 L339.29,544.38 L339.04,545.45 L339.20,546.88 L339.62,547.64 L339.54,548.63 L339.59,549.37 L339.79,551.19 L339.95,552.54 L340.01,552.69 L340.42,553.72 L339.99,554.73 L340.45,555.23 L340.22,555.82 L340.55,557.06 L340.82,557.60 L340.79,558.42 L340.60,559.21 L341.01,560.91 L340.97,561.89 L341.32,562.81 L341.31,563.09 L341.26,564.45 L341.28,564.56 L341.87,566.43 L341.74,567.21 L341.42,568.06 L341.91,568.35 L341.80,569.86 L342.36,570.96 L341.86,571.76 L342.19,572.32 L342.08,573.61 L342.31,574.09 L342.57,575.72 L342.50,576.14 L342.85,577.28 L343.09,577.45 L343.19,578.16 L343.00,580.03 L343.41,580.43 L343.35,581.89 L343.00,582.93 L343.65,583.05 L343.39,584.44 L343.92,586.16 L343.49,586.35 L343.55,586.86 L343.71,589.07 L344.29,589.01 L344.20,590.59 L344.17,591.84 L344.02,591.99 L344.14,593.81 L344.72,594.09 L344.32,595.55 L344.91,596.46 L345.12,597.03 L344.90,598.06 L344.75,598.93 L344.97,599.16 L345.46,599.31 L345.24,601.59 L345.43,602.81 L345.80,602.91 L345.80,604.09 L346.06,605.56 L346.10,605.61 L346.50,606.66 L346.49,608.44 L346.51,608.22 L346.73,609.13 L346.61,610.12 L346.76,611.46 L347.32,612.10 L347.62,612.40 L347.34,613.58 L347.64,614.91 L347.62,615.42 L347.85,616.18 L347.79,617.65 L347.94,618.11 L348.24,619.04 L348.74,620.51 L349.02,621.22 L348.78,621.31 L348.85,623.50 L349.18,623.75 L349.33,624.65 L349.39,625.53 L349.76,626.72 L349.65,627.18 L349.81,628.61 L350.42,630.10 L350.44,630.61 L350.90,631.39 L350.92,631.70 L351.22,633.34 L351.15,634.05 L351.30,634.05 L351.69,635.75 L352.04,636.37 L352.76,638.00 L352.60,638.08 L353.23,640.19 L353.56,640.75 L354.08,641.63 L353.84,642.15 L354.40,643.11 L354.62,643.98 L355.40,644.26 L355.75,645.12 L356.22,646.06 L356.95,646.92 L356.86,647.21 L357.88,648.05 L358.52,649.39 L358.84,650.01 L359.81,650.92 L360.16,651.53 L360.94,652.19 L361.72,652.79 L362.12,653.03 L362.97,653.75 L363.46,654.31 L364.26,655.87 L365.06,655.50 L365.74,656.25 L366.16,657.22 L367.22,657.94 L368.08,657.35 L369.12,657.61 L369.37,658.11 L370.22,658.55 L371.64,659.03 L372.29,659.50 L372.91,659.79 L373.72,660.43 L374.77,661.79 L375.21,661.44 L376.36,662.54 L376.84,662.46 L377.95,662.62 L379.05,663.27 L379.73,663.80 L380.78,663.35 L381.42,663.66 L382.76,664.94 L383.21,664.90 L384.04,664.48 L385.35,665.48 L386.05,665.61 L386.97,665.82 L387.73,666.87 L388.43,666.64 L389.33,666.56 L390.07,666.47 L391.29,666.53 L391.99,667.55 L392.95,667.04 L393.72,667.55 L394.89,668.52 L395.70,668.61 L396.57,669.11 L397.84,669.22 L398.57,669.20 L400.12,669.47 L401.02,668.99 L401.27,669.63 L402.19,670.39 L403.57,669.91 L404.43,670.30 L405.47,670.43 L405.96,671.26 L407.02,670.25 L408.42,671.23 L409.52,670.85 L410.61,671.93 L411.47,671.02 L412.60,671.74 L413.20,671.90 L414.79,672.10 L415.45,673.14 L416.60,672.60 L417.28,673.05 L418.32,673.49 L419.26,672.91 L420.23,673.95 L420.73,673.19 L421.39,674.35 L421.89,673.72 L422.75,674.43 L423.10,674.20" fill="none" stroke="#3232f0" stroke-width="1.2" stroke-opacity="1" stroke-linejoin="round"/>
<text x="355.00" y="588.10" font-size="10.4" text-anchor="start">Vismodegib</text>
<line x1="383.80" y1="577.70" x2="383.80" y2="571.30" stroke="#000" stroke-width="1.1"/>
<path d="M380.80,572.30 L386.80,572.30 L383.80,565.80 Z" fill="#000"/>
<text x="364.20" y="607.70" font-size="10.4" text-anchor="start">Cyclopamine</text>
<line x1="395.40" y1="611.00" x2="395.40" y2="617.50" stroke="#000" stroke-width="1.1"/>
<path d="M392.40,616.50 L398.40,616.50 L395.40,623.00 Z" fill="#000"/>
<text x="388.00" y="661.00" font-size="10.4" text-anchor="start" transform="rotate(12 388.00 661.00)">Contro<tspan font-style="italic">l</tspan></text>
<line x1="128.00" y1="701.20" x2="128.00" y2="791.10" stroke="#000" stroke-width="1.5"/>
<line x1="127.30" y1="790.50" x2="237.00" y2="790.50" stroke="#000" stroke-width="1.5"/>
<line x1="124.00" y1="790.50" x2="128.00" y2="790.50" stroke="#000" stroke-width="1.3"/>
<text x="120.00" y="794.10" font-size="10" text-anchor="end" textLength="5.95" lengthAdjust="spacingAndGlyphs">0</text>
<line x1="124.00" y1="773.80" x2="128.00" y2="773.80" stroke="#000" stroke-width="1.3"/>
<text x="120.00" y="777.40" font-size="10" text-anchor="end" textLength="11.90" lengthAdjust="spacingAndGlyphs">20</text>
<line x1="124.00" y1="757.10" x2="128.00" y2="757.10" stroke="#000" stroke-width="1.3"/>
<text x="120.00" y="760.70" font-size="10" text-anchor="end" textLength="11.90" lengthAdjust="spacingAndGlyphs">40</text>
<line x1="124.00" y1="740.40" x2="128.00" y2="740.40" stroke="#000" stroke-width="1.3"/>
<text x="120.00" y="744.00" font-size="10" text-anchor="end" textLength="11.90" lengthAdjust="spacingAndGlyphs">60</text>
<line x1="124.00" y1="723.70" x2="128.00" y2="723.70" stroke="#000" stroke-width="1.3"/>
<text x="120.00" y="727.30" font-size="10" text-anchor="end" textLength="11.90" lengthAdjust="spacingAndGlyphs">80</text>
<line x1="124.00" y1="707.00" x2="128.00" y2="707.00" stroke="#000" stroke-width="1.3"/>
<text x="120.00" y="710.60" font-size="10" text-anchor="end" textLength="17.85" lengthAdjust="spacingAndGlyphs">100</text>
<line x1="150.00" y1="790.50" x2="150.00" y2="795.50" stroke="#000" stroke-width="1.3"/>
<line x1="182.50" y1="790.50" x2="182.50" y2="795.50" stroke="#000" stroke-width="1.3"/>
<line x1="215.00" y1="790.50" x2="215.00" y2="795.50" stroke="#000" stroke-width="1.3"/>
<text x="0" y="0" font-size="12.8" style="stroke-width:0.35px" text-anchor="middle" textLength="65.0" lengthAdjust="spacingAndGlyphs" transform="translate(94.00 746.25) rotate(-90)">Aggregation (%)</text>
<text x="154.10" y="803.50" font-size="10.2" text-anchor="end" transform="rotate(-45 154.10 803.50)">Control</text>
<text x="186.60" y="803.50" font-size="10.2" text-anchor="end" transform="rotate(-45 186.60 803.50)">Vismodegib</text>
<text x="219.10" y="803.50" font-size="10.2" text-anchor="end" transform="rotate(-45 219.10 803.50)">Cyclopamine</text>
<line x1="138.75" y1="723.25" x2="162.00" y2="723.25" stroke="#000" stroke-width="1.5"/>
<line x1="150.00" y1="720.50" x2="150.00" y2="726.75" stroke="#000" stroke-width="1.4"/>
<line x1="144.10" y1="720.50" x2="155.90" y2="720.50" stroke="#000" stroke-width="1.4"/>
<line x1="144.10" y1="726.75" x2="155.90" y2="726.75" stroke="#000" stroke-width="1.4"/>
<line x1="171.25" y1="763.25" x2="194.25" y2="763.25" stroke="#000" stroke-width="1.5"/>
<line x1="182.50" y1="753.00" x2="182.50" y2="773.00" stroke="#000" stroke-width="1.4"/>
<line x1="176.70" y1="753.00" x2="188.30" y2="753.00" stroke="#000" stroke-width="1.4"/>
<line x1="176.70" y1="773.00" x2="188.30" y2="773.00" stroke="#000" stroke-width="1.4"/>
<polygon points="182.50,722.00 183.15,723.61 184.88,723.73 183.55,724.84 183.97,726.52 182.50,725.60 181.03,726.52 181.45,724.84 180.12,723.73 181.85,723.61" fill="#111"/>
<line x1="203.75" y1="741.25" x2="227.00" y2="741.25" stroke="#000" stroke-width="1.5"/>
<line x1="215.00" y1="737.50" x2="215.00" y2="744.50" stroke="#000" stroke-width="1.4"/>
<line x1="209.20" y1="737.50" x2="220.80" y2="737.50" stroke="#000" stroke-width="1.4"/>
<line x1="209.20" y1="744.50" x2="220.80" y2="744.50" stroke="#000" stroke-width="1.4"/>
<polygon points="215.00,719.50 215.65,721.11 217.38,721.23 216.05,722.34 216.47,724.02 215.00,723.10 213.53,724.02 213.95,722.34 212.62,721.23 214.35,721.11" fill="#111"/>
<circle cx="142.50" cy="717.50" r="2.05" fill="#cf0530"/>
<circle cx="150.00" cy="717.50" r="2.05" fill="#cf0530"/>
<circle cx="157.50" cy="717.50" r="2.05" fill="#cf0530"/>
<circle cx="150.00" cy="723.75" r="2.05" fill="#cf0530"/>
<circle cx="150.00" cy="730.00" r="2.05" fill="#cf0530"/>
<circle cx="150.00" cy="737.00" r="2.05" fill="#cf0530"/>
<circle cx="178.25" cy="735.00" r="2.05" fill="#17508e"/>
<circle cx="186.25" cy="734.25" r="2.05" fill="#17508e"/>
<circle cx="182.50" cy="757.50" r="2.05" fill="#17508e"/>
<circle cx="175.00" cy="785.00" r="2.05" fill="#17508e"/>
<circle cx="182.50" cy="784.25" r="2.05" fill="#17508e"/>
<circle cx="190.00" cy="785.00" r="2.05" fill="#17508e"/>
<circle cx="208.00" cy="734.25" r="2.05" fill="#3ab54a"/>
<circle cx="215.00" cy="731.75" r="2.05" fill="#3ab54a"/>
<circle cx="222.50" cy="734.25" r="2.05" fill="#3ab54a"/>
<circle cx="211.25" cy="738.75" r="2.05" fill="#3ab54a"/>
<circle cx="218.75" cy="738.75" r="2.05" fill="#3ab54a"/>
<circle cx="215.00" cy="752.00" r="2.05" fill="#3ab54a"/>
<circle cx="215.00" cy="756.25" r="2.05" fill="#3ab54a"/>
<line x1="332.50" y1="704.50" x2="332.50" y2="790.60" stroke="#000" stroke-width="1.5"/>
<line x1="331.80" y1="790.00" x2="437.50" y2="790.00" stroke="#000" stroke-width="1.5"/>
<line x1="328.50" y1="790.00" x2="332.50" y2="790.00" stroke="#000" stroke-width="1.3"/>
<text x="324.50" y="793.60" font-size="10" text-anchor="end" textLength="5.95" lengthAdjust="spacingAndGlyphs">0</text>
<line x1="328.50" y1="763.09" x2="332.50" y2="763.09" stroke="#000" stroke-width="1.3"/>
<text x="324.50" y="766.69" font-size="10" text-anchor="end" textLength="11.90" lengthAdjust="spacingAndGlyphs">50</text>
<line x1="328.50" y1="736.17" x2="332.50" y2="736.17" stroke="#000" stroke-width="1.3"/>
<text x="324.50" y="739.77" font-size="10" text-anchor="end" textLength="17.85" lengthAdjust="spacingAndGlyphs">100</text>
<line x1="328.50" y1="709.25" x2="332.50" y2="709.25" stroke="#000" stroke-width="1.3"/>
<text x="324.50" y="712.86" font-size="10" text-anchor="end" textLength="17.85" lengthAdjust="spacingAndGlyphs">150</text>
<line x1="353.25" y1="790.00" x2="353.25" y2="795.00" stroke="#000" stroke-width="1.3"/>
<line x1="385.00" y1="790.00" x2="385.00" y2="795.00" stroke="#000" stroke-width="1.3"/>
<line x1="416.25" y1="790.00" x2="416.25" y2="795.00" stroke="#000" stroke-width="1.3"/>
<text x="0" y="0" font-size="12.8" style="stroke-width:0.35px" text-anchor="middle" textLength="64.5" lengthAdjust="spacingAndGlyphs" transform="translate(298.50 745.75) rotate(-90)">Aggregation (%)</text>
<text x="357.55" y="803.00" font-size="10.2" text-anchor="end" transform="rotate(-45 357.55 803.00)">Control</text>
<text x="389.30" y="803.00" font-size="10.2" text-anchor="end" transform="rotate(-45 389.30 803.00)">Vismodegib</text>
<text x="420.55" y="803.00" font-size="10.2" text-anchor="end" transform="rotate(-45 420.55 803.00)">Cyclopamine</text>
<line x1="342.50" y1="740.50" x2="365.00" y2="740.50" stroke="#000" stroke-width="1.5"/>
<line x1="353.75" y1="738.75" x2="353.75" y2="742.50" stroke="#000" stroke-width="1.4"/>
<line x1="348.25" y1="738.75" x2="359.25" y2="738.75" stroke="#000" stroke-width="1.4"/>
<line x1="348.25" y1="742.50" x2="359.25" y2="742.50" stroke="#000" stroke-width="1.4"/>
<line x1="373.75" y1="776.25" x2="397.00" y2="776.25" stroke="#000" stroke-width="1.5"/>
<line x1="385.00" y1="769.25" x2="385.00" y2="783.25" stroke="#000" stroke-width="1.4"/>
<line x1="379.20" y1="769.25" x2="390.80" y2="769.25" stroke="#000" stroke-width="1.4"/>
<line x1="379.20" y1="783.25" x2="390.80" y2="783.25" stroke="#000" stroke-width="1.4"/>
<polygon points="385.00,738.75 385.65,740.36 387.38,740.48 386.05,741.59 386.47,743.27 385.00,742.35 383.53,743.27 383.95,741.59 382.62,740.48 384.35,740.36" fill="#111"/>
<line x1="405.00" y1="766.75" x2="428.00" y2="766.75" stroke="#000" stroke-width="1.5"/>
<line x1="416.25" y1="757.50" x2="416.25" y2="776.25" stroke="#000" stroke-width="1.4"/>
<line x1="410.45" y1="757.50" x2="422.05" y2="757.50" stroke="#000" stroke-width="1.4"/>
<line x1="410.45" y1="776.25" x2="422.05" y2="776.25" stroke="#000" stroke-width="1.4"/>
<polygon points="416.25,727.50 416.90,729.11 418.63,729.23 417.30,730.34 417.72,732.02 416.25,731.10 414.78,732.02 415.20,730.34 413.87,729.23 415.60,729.11" fill="#111"/>
<circle cx="344.50" cy="738.75" r="2.05" fill="#cf0530"/>
<circle cx="362.50" cy="736.75" r="2.05" fill="#cf0530"/>
<circle cx="345.00" cy="743.25" r="2.05" fill="#cf0530"/>
<circle cx="353.75" cy="741.25" r="2.05" fill="#cf0530"/>
<circle cx="362.00" cy="742.00" r="2.05" fill="#cf0530"/>
<circle cx="385.00" cy="749.50" r="2.05" fill="#17508e"/>
<circle cx="385.00" cy="771.25" r="2.05" fill="#17508e"/>
<circle cx="385.00" cy="781.25" r="2.05" fill="#17508e"/>
<circle cx="381.25" cy="789.50" r="2.05" fill="#17508e"/>
<circle cx="388.75" cy="789.50" r="2.05" fill="#17508e"/>
<circle cx="416.25" cy="744.25" r="2.05" fill="#3ab54a"/>
<circle cx="412.50" cy="756.25" r="2.05" fill="#3ab54a"/>
<circle cx="420.50" cy="755.00" r="2.05" fill="#3ab54a"/>
<circle cx="412.50" cy="788.75" r="2.05" fill="#3ab54a"/>
<circle cx="420.00" cy="788.75" r="2.05" fill="#3ab54a"/>
<rect x="348.3" y="738.6" width="11" height="4" fill="#474747"/>
</g></svg></body></html>
